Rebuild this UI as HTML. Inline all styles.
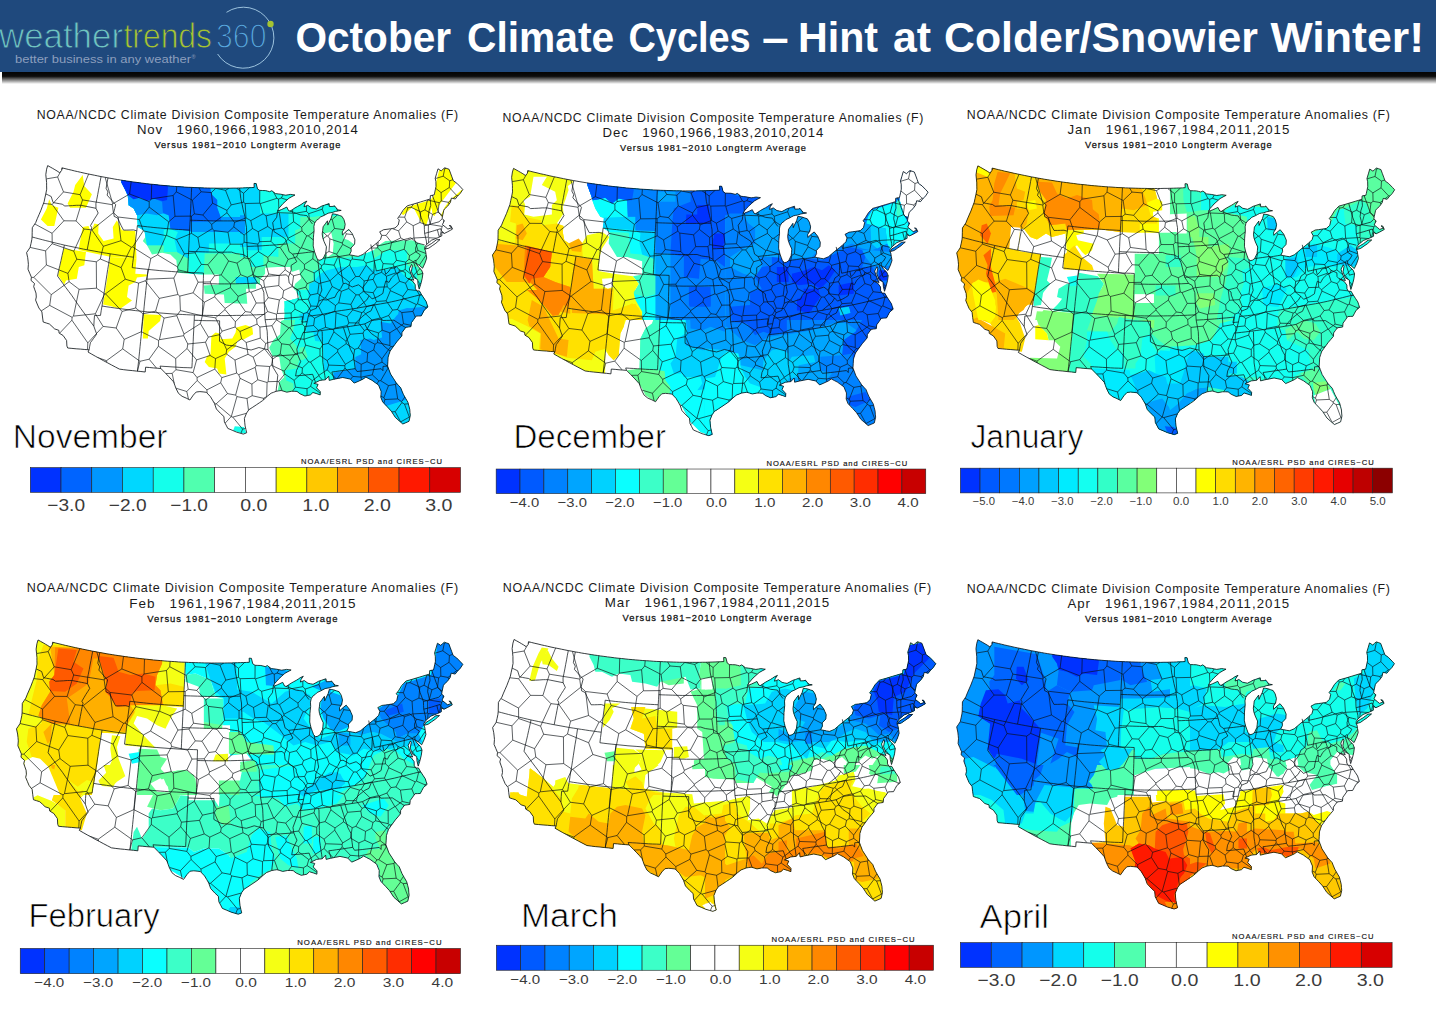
<!DOCTYPE html>
<html><head><meta charset="utf-8"><title>October Climate Cycles</title>
<style>
html,body{margin:0;padding:0;background:#fff;}
body{width:1436px;height:1019px;overflow:hidden;position:relative;font-family:"Liberation Sans",sans-serif;}
svg{position:absolute;left:0;top:0;}
text{font-family:"Liberation Sans",sans-serif;}
</style></head><body>
<svg width="1436" height="1019" viewBox="0 0 1436 1019">
<defs>
<linearGradient id="sh" x1="0" y1="0" x2="0" y2="1"><stop offset="0" stop-color="#000" stop-opacity="1"/><stop offset="0.45" stop-color="#000" stop-opacity="0.95"/><stop offset="1" stop-color="#000" stop-opacity="0"/></linearGradient>
<path id="us" d="M47.7 165.6 L50.2 167.0 L52.7 168.4 L54.9 169.7 L57.1 171.0 L59.6 172.7 L61.6 170.5 L61.9 167.8 L65.0 168.6 L68.2 169.4 L71.3 170.1 L74.4 170.9 L77.6 171.6 L80.7 172.3 L84.1 173.1 L87.5 173.8 L90.9 174.5 L94.3 175.2 L97.7 175.9 L101.1 176.6 L104.5 177.2 L108.0 177.9 L111.1 178.4 L114.2 179.0 L117.3 179.5 L120.4 180.0 L123.6 180.5 L126.7 181.0 L129.8 181.4 L132.9 181.9 L136.1 182.3 L139.6 182.8 L143.0 183.2 L146.5 183.7 L150.0 184.1 L153.5 184.4 L157.0 184.8 L160.5 185.2 L164.0 185.5 L167.5 185.8 L170.9 186.1 L174.4 186.4 L177.8 186.6 L181.3 186.8 L184.8 187.1 L188.2 187.3 L191.7 187.4 L194.9 187.6 L198.0 187.7 L201.2 187.8 L204.4 187.9 L207.5 188.0 L210.7 188.1 L213.8 188.1 L217.0 188.2 L220.2 188.2 L223.4 188.2 L226.7 188.2 L229.9 188.2 L233.1 188.1 L236.4 188.1 L239.6 188.0 L242.6 187.9 L245.5 187.8 L248.4 187.7 L251.3 187.6 L254.2 187.4 L254.0 183.4 L256.2 183.6 L257.5 188.9 L259.7 190.4 L262.5 190.5 L265.4 190.6 L267.5 191.1 L269.7 191.7 L271.8 190.7 L275.5 193.6 L278.1 193.9 L280.6 194.2 L283.1 194.7 L285.7 195.2 L288.2 194.8 L290.6 194.4 L292.8 194.7 L295.0 195.0 L291.9 196.6 L288.9 198.3 L285.9 201.0 L282.9 203.7 L280.9 206.0 L278.9 208.3 L277.6 210.6 L279.1 210.5 L281.6 209.5 L284.0 208.4 L286.8 207.1 L288.6 210.7 L290.1 211.1 L292.6 209.5 L295.0 207.9 L297.5 206.5 L300.1 205.1 L302.0 203.9 L303.8 202.6 L306.9 201.1 L304.8 204.1 L304.0 206.8 L305.9 206.1 L307.8 205.3 L311.5 208.0 L314.0 208.5 L316.4 209.0 L319.2 207.5 L321.9 206.0 L324.7 205.1 L327.5 204.1 L329.1 203.6 L329.4 206.5 L333.1 206.4 L334.4 205.7 L336.3 208.0 L338.1 209.9 L341.2 210.4 L338.3 210.9 L335.4 211.4 L332.2 212.5 L330.2 212.8 L328.2 213.2 L326.1 214.3 L324.1 215.4 L320.5 217.0 L318.6 218.9 L316.5 220.3 L314.6 223.2 L313.9 226.5 L314.1 230.8 L313.7 234.3 L313.4 237.8 L313.3 241.8 L313.2 245.9 L313.8 248.7 L314.5 251.6 L315.7 254.9 L316.9 258.2 L318.8 260.4 L321.1 259.8 L323.3 258.3 L325.7 253.2 L326.1 250.0 L326.4 246.7 L324.1 241.7 L322.7 237.6 L322.2 233.9 L322.7 230.4 L323.1 226.8 L325.3 223.8 L327.5 220.8 L327.8 225.1 L328.9 222.7 L331.2 218.1 L332.4 213.8 L334.5 214.1 L336.7 214.5 L339.3 215.4 L341.9 216.3 L344.0 219.7 L345.2 224.3 L344.4 228.8 L342.3 231.8 L342.4 235.0 L345.8 231.8 L348.8 229.4 L352.3 233.8 L353.6 236.8 L354.9 239.8 L354.6 244.1 L352.8 246.1 L351.0 248.0 L351.2 251.2 L349.4 254.8 L352.3 255.3 L355.2 255.9 L358.1 256.4 L360.6 255.4 L363.0 254.4 L365.9 251.9 L368.8 249.4 L371.6 247.2 L374.3 245.0 L376.6 243.2 L378.6 241.3 L380.6 239.3 L381.7 235.5 L379.7 231.8 L381.7 230.8 L383.6 229.7 L387.0 229.3 L390.5 228.8 L392.8 228.4 L395.0 228.0 L398.2 225.0 L399.3 220.0 L397.7 218.3 L400.3 214.8 L403.0 210.3 L405.1 208.0 L407.3 205.8 L410.5 204.9 L413.7 204.0 L417.0 203.0 L420.3 202.0 L423.6 201.0 L426.9 200.0 L430.2 199.0 L430.4 195.6 L434.1 195.0 L434.6 193.1 L435.3 189.8 L436.0 186.5 L435.9 181.5 L435.2 178.3 L436.6 173.6 L438.0 168.8 L441.2 170.9 L442.9 169.3 L444.7 167.8 L446.9 168.5 L449.1 169.3 L450.5 173.1 L451.9 176.9 L453.3 180.7 L456.8 183.2 L460.6 187.1 L462.8 189.5 L460.4 193.2 L458.8 194.9 L457.2 196.6 L455.3 199.0 L451.4 198.1 L450.4 202.4 L447.7 206.1 L444.6 208.9 L443.8 210.2 L442.5 216.2 L442.1 218.6 L444.4 220.6 L442.4 224.6 L445.9 227.4 L447.9 229.1 L451.6 227.7 L449.2 225.5 L450.9 225.7 L452.5 229.1 L450.2 230.4 L447.9 231.7 L444.4 233.4 L441.8 232.0 L441.8 235.9 L438.2 237.6 L434.9 238.9 L431.5 240.2 L429.1 242.3 L426.6 244.4 L424.8 247.1 L424.7 249.3 L425.5 250.7 L426.1 254.4 L426.7 258.1 L425.1 262.9 L422.6 268.2 L419.5 265.5 L415.9 263.2 L418.1 266.5 L421.5 269.9 L422.9 273.4 L422.2 278.5 L420.7 284.4 L419.2 289.1 L418.0 284.0 L417.7 279.7 L413.7 277.5 L412.6 274.5 L411.4 271.5 L412.4 265.8 L411.6 264.4 L409.4 268.8 L410.2 271.8 L411.3 274.5 L412.4 277.3 L413.8 280.2 L410.7 279.3 L407.6 278.5 L412.5 281.0 L415.2 284.7 L415.3 288.5 L416.8 290.9 L419.4 290.9 L421.5 294.5 L423.8 298.0 L426.1 301.5 L427.0 304.3 L427.9 307.0 L424.4 309.9 L422.8 312.9 L421.2 315.9 L418.6 316.0 L416.1 316.1 L413.8 319.4 L411.4 322.7 L411.0 326.6 L408.4 327.0 L405.8 327.3 L403.9 329.9 L402.0 332.5 L401.9 335.8 L399.4 338.8 L396.8 341.8 L394.7 344.7 L392.6 347.6 L390.1 351.1 L389.1 354.1 L388.1 357.2 L387.9 361.6 L387.6 366.0 L388.7 369.0 L390.6 374.1 L393.4 378.4 L396.2 382.8 L398.4 385.3 L400.7 387.8 L402.0 391.1 L403.4 394.4 L405.6 398.3 L407.9 402.2 L408.9 405.9 L409.8 409.5 L410.0 412.5 L410.3 415.5 L409.0 421.3 L405.9 422.7 L402.8 424.0 L399.1 420.8 L395.4 417.5 L393.3 414.3 L391.2 411.1 L387.4 406.9 L385.0 404.4 L382.6 401.8 L380.8 397.2 L381.0 394.2 L381.1 391.2 L379.8 388.2 L378.6 385.1 L375.3 382.7 L372.0 380.3 L368.9 378.7 L365.9 377.1 L362.9 379.2 L358.6 381.2 L354.2 383.1 L350.3 379.1 L346.5 378.3 L342.7 377.5 L338.2 378.4 L333.7 379.3 L329.2 380.4 L328.7 376.2 L325.4 379.8 L322.7 380.1 L319.9 380.4 L315.6 382.5 L313.8 383.3 L318.1 384.4 L316.6 387.8 L320.3 391.7 L320.2 394.9 L316.8 393.7 L312.9 392.5 L310.4 394.9 L307.6 395.5 L304.9 396.0 L300.0 393.8 L297.0 391.4 L294.2 391.3 L291.4 391.3 L286.8 392.2 L284.0 391.3 L281.1 390.5 L278.6 390.9 L276.1 391.3 L273.6 392.3 L271.1 393.2 L267.5 396.1 L265.1 398.4 L262.6 400.6 L259.7 402.6 L256.7 404.6 L252.8 407.2 L248.9 409.7 L246.6 413.0 L244.4 418.4 L244.7 422.2 L245.1 425.9 L245.9 429.4 L246.7 432.8 L243.3 434.1 L239.9 433.1 L236.5 432.1 L232.1 430.2 L227.8 428.4 L226.1 425.1 L224.4 421.9 L223.9 416.5 L220.4 413.3 L216.4 409.0 L214.5 403.6 L212.5 400.1 L210.4 396.6 L206.3 392.3 L203.1 391.9 L199.9 391.6 L196.2 392.0 L193.3 395.1 L189.9 400.0 L186.2 398.1 L182.1 396.3 L178.5 393.4 L176.0 388.5 L174.8 385.2 L173.6 381.9 L171.1 379.1 L168.5 376.3 L165.1 372.8 L160.9 368.5 L157.1 368.2 L153.3 367.9 L149.5 367.5 L145.6 367.2 L145.2 372.0 L140.9 371.5 L136.6 371.1 L132.3 370.6 L128.0 370.2 L123.7 369.7 L119.4 369.1 L115.4 367.0 L111.4 364.9 L107.5 362.8 L103.5 360.7 L99.6 358.5 L95.7 356.4 L91.8 354.2 L88.0 352.0 L89.1 349.8 L84.8 349.5 L80.5 349.1 L76.2 348.8 L71.9 348.4 L67.7 348.0 L66.9 346.0 L66.6 340.5 L63.1 335.5 L59.1 333.1 L58.8 330.3 L54.6 328.9 L52.0 326.4 L49.4 324.0 L46.3 323.0 L43.2 322.0 L42.5 317.0 L41.9 311.9 L38.9 308.0 L37.2 304.0 L35.6 300.1 L36.3 297.0 L36.0 293.1 L34.8 289.8 L33.7 286.6 L34.5 283.5 L31.0 280.4 L31.4 277.2 L29.7 273.2 L28.0 269.2 L28.4 264.4 L28.1 261.1 L27.7 257.7 L26.6 252.6 L28.4 250.0 L30.1 247.4 L31.0 243.5 L31.8 239.6 L32.1 237.0 L32.2 232.3 L32.3 227.7 L34.0 225.1 L35.7 222.6 L37.3 218.6 L39.0 214.7 L40.7 210.8 L42.4 206.3 L44.1 201.8 L44.9 197.9 L45.8 193.9 L46.7 189.2 L46.6 185.9 L46.6 182.6 L46.2 178.6 L45.8 174.6 L46.6 169.2 L47.7 165.6Z M425.0 249.2 L428.9 248.1 L432.3 245.7 L435.8 243.3 L437.9 241.4 L440.0 239.6 L436.4 239.8 L434.0 241.6 L431.7 243.4 L429.0 245.0 L426.4 246.6 L425.0 249.2Z"/>
<path id="bd" d="M45.8 193.9 L48.5 195.2 L51.2 196.5 L53.1 202.5 L56.1 203.1 L59.2 203.7 L62.2 204.2 L64.8 206.0 L68.7 205.8 L72.5 205.6 L76.4 205.3 L78.7 205.3 L81.1 205.3 L84.0 205.9 L87.0 206.5 L90.0 207.1 L93.0 207.7 L96.0 208.3 M101.1 176.6 L100.2 181.1 L99.4 185.7 L98.5 190.2 L97.7 194.7 L96.8 199.2 L95.9 203.7 L96.0 208.3 M96.0 208.3 L98.2 213.0 L96.4 215.9 L94.5 218.8 L92.5 222.2 L90.5 225.6 L91.7 227.5 L90.8 231.1 L89.9 235.8 L89.0 240.5 L88.1 245.1 L87.2 249.8 M32.1 237.0 L35.5 237.9 L38.9 238.8 L42.3 239.7 L45.8 240.6 L49.2 241.4 L53.0 242.4 L56.8 243.3 L60.6 244.2 L64.4 245.1 L68.2 245.9 L72.0 246.7 L75.8 247.5 L79.6 248.3 L83.4 249.1 L87.2 249.8 L91.0 250.5 L94.9 251.2 L98.7 251.9 L102.5 252.6 L106.4 253.2 L110.2 253.8 L114.1 254.4 L118.0 255.0 L121.8 255.6 L125.7 256.1 L129.6 256.7 L133.5 257.2 M64.4 245.1 L63.3 250.2 L62.1 255.4 L61.0 260.5 L59.8 265.7 L58.6 270.8 L57.5 276.0 L60.2 279.8 L63.0 283.7 L65.8 287.5 L68.7 291.4 L71.6 295.2 L74.6 299.6 L77.7 304.1 L80.8 308.5 L84.0 312.9 L87.2 317.3 L90.5 321.7 L93.8 326.1 M93.8 326.1 L95.2 330.1 L96.7 334.1 L93.6 338.4 L90.4 342.7 L89.7 346.2 L89.1 349.8 M93.8 326.1 L94.1 320.8 L94.5 315.5 L97.5 315.5 L100.5 315.4 M110.2 253.8 L109.4 259.1 L108.6 264.3 L107.7 269.5 L106.9 274.7 L106.1 279.9 L105.3 285.2 L104.5 290.4 L103.6 295.6 L102.8 300.8 L102.0 306.0 L101.2 310.7 L100.5 315.4 M102.0 306.0 L106.1 306.7 L110.3 307.3 L114.5 307.9 L118.6 308.5 L122.8 309.0 L127.0 309.6 L131.1 310.1 L135.3 310.6 L139.5 311.0 L143.7 311.5 L147.6 311.9 L151.5 312.2 L155.3 312.6 L159.2 312.9 L163.1 313.2 L167.0 313.5 L171.0 313.8 L174.9 314.1 L178.8 314.3 L182.7 314.5 L186.6 314.7 L190.5 314.9 L194.4 315.0 L198.4 315.2 L202.4 315.3 L206.2 315.4 L209.9 315.4 L213.7 315.5 L217.5 315.5 L221.3 315.6 L225.1 315.6 L228.9 315.5 L232.6 315.5 L236.4 315.4 L240.5 315.4 L244.5 315.3 L248.6 315.1 L252.7 315.0 L256.7 314.8 L260.8 314.6 L264.8 314.4 M148.0 269.4 L147.4 274.7 L146.9 280.0 L146.4 285.2 L145.8 290.5 L145.3 295.7 L144.7 301.0 L144.2 306.2 L143.7 311.5 L143.2 316.4 L142.6 321.4 L142.1 326.4 L141.6 331.3 L141.1 336.3 L140.6 341.3 L140.1 346.3 L139.6 351.2 L139.1 356.2 L138.6 361.2 L138.0 366.2 L137.5 371.2 M133.5 257.2 L132.8 262.4 L132.2 267.6 L136.1 268.1 L140.1 268.6 L144.0 269.0 L148.0 269.4 M136.8 230.9 L136.1 236.1 L135.4 241.4 L134.8 246.6 L134.1 251.9 L133.5 257.2 M108.0 177.9 L107.0 183.1 L106.1 188.4 L108.0 192.0 L107.1 195.1 L110.0 198.4 L112.9 201.6 L115.7 204.7 L114.7 208.6 L113.7 212.5 L114.2 216.4 L117.7 218.0 L119.4 221.8 L121.1 225.5 L123.5 230.1 L126.8 230.1 L130.1 230.0 L133.5 229.9 L136.8 230.9 L137.4 225.6 M137.4 225.6 L140.7 226.0 L144.0 226.4 L147.3 226.8 L150.6 227.1 L153.9 227.5 L157.2 227.8 L160.6 228.1 L163.9 228.4 L167.5 228.7 L171.2 229.0 L174.9 229.3 L178.6 229.5 L182.3 229.7 L186.0 229.9 L189.6 230.1 M191.7 187.4 L191.4 192.8 L191.2 198.2 L190.9 203.5 L190.7 208.8 L190.4 214.2 L190.2 219.5 L189.9 224.8 L189.6 230.1 L189.4 235.4 L189.1 240.7 L188.9 246.0 L188.6 251.3 L188.4 256.6 L188.1 261.9 L187.9 267.2 L187.6 272.5 M148.0 269.4 L151.9 269.8 L155.9 270.2 L159.8 270.6 L163.8 270.9 L167.8 271.2 L171.7 271.5 L175.7 271.8 L179.7 272.0 L183.6 272.3 L187.6 272.5 L191.6 272.6 L195.6 272.8 L199.5 272.9 L203.5 273.1 L203.4 278.3 L203.2 283.6 L206.8 283.7 L210.4 283.8 L214.0 283.8 L217.5 283.9 L221.1 283.9 L224.7 283.9 L228.3 283.9 L231.8 283.8 L235.5 283.8 L239.2 283.7 L242.9 283.6 L246.6 283.5 L250.3 283.4 L254.0 283.2 L257.6 283.1 M203.2 283.6 L203.1 288.9 L202.9 294.2 L202.8 299.4 L202.7 304.7 L202.5 310.0 L202.4 315.3 M194.4 315.0 L194.2 320.3 L193.9 325.6 L193.7 330.9 L193.4 336.1 L193.2 341.4 L192.9 346.7 L192.7 352.0 L192.4 357.3 L192.2 362.6 L191.9 367.9 L187.9 367.7 L183.9 367.6 L179.9 367.4 L175.9 367.1 L172.0 366.9 L168.0 366.6 L164.0 366.4 L160.0 366.1 L160.9 368.5 M194.2 320.3 L198.4 320.4 L202.7 320.6 L206.9 320.7 L211.1 320.7 L215.4 320.8 L219.6 320.8 L219.6 326.0 L219.5 331.1 L219.5 336.2 L219.5 341.3 L223.0 343.3 L226.5 345.1 L229.7 345.5 L232.9 345.8 L236.1 346.1 L240.0 347.4 L244.0 348.6 L247.5 349.3 L251.1 350.0 L255.0 348.8 L258.9 347.5 L261.9 348.3 L264.9 349.0 L268.0 349.7 M190.1 220.1 L193.4 220.3 L196.8 220.4 L200.1 220.5 L203.4 220.6 L206.7 220.7 L210.1 220.8 L213.4 220.9 L216.7 220.9 L220.0 220.9 L223.6 220.9 L227.3 220.9 L230.9 220.9 L234.5 220.8 L238.2 220.8 L241.8 220.7 L245.4 220.6 M188.6 251.3 L192.0 251.5 L195.3 251.6 L198.7 251.7 L202.1 251.8 L205.4 251.9 L208.8 252.0 L212.2 252.1 L216.0 252.1 L219.9 252.1 L223.7 252.2 L227.6 252.1 L231.5 252.1 L233.8 252.9 L236.1 253.6 L239.6 254.1 L243.1 254.5 L245.3 255.8 L247.5 257.0 M245.4 220.6 L245.0 216.7 L244.0 213.0 L243.1 209.3 L242.0 204.0 L240.8 198.7 L240.2 193.3 L239.6 188.0 M245.4 220.6 L245.9 224.0 L246.5 227.3 L246.6 232.1 L246.8 236.9 L246.9 241.7 L247.1 246.4 L247.3 250.7 L247.4 253.9 L247.5 257.0 M247.1 246.4 L250.9 246.3 L254.6 246.1 L258.4 246.0 L262.1 245.8 L265.9 245.5 L269.4 245.3 L273.0 245.1 L276.5 244.8 L280.0 244.5 L283.6 244.2 L287.1 243.9 M247.5 257.0 L250.0 262.2 L251.4 267.5 L252.6 272.7 L253.7 276.9 L255.7 280.0 L257.6 283.1 L261.0 285.0 L262.4 288.6 L263.8 292.3 L264.0 296.7 L264.2 301.1 L264.4 305.6 L264.6 310.0 L264.8 314.4 L265.1 319.7 L265.8 323.5 L266.5 327.4 L267.2 331.2 L267.4 335.8 L267.6 340.5 L267.8 345.1 L268.0 349.7 L270.1 353.0 L272.2 356.2 L272.4 359.8 L272.6 363.4 L272.9 367.0 L275.3 371.1 L277.8 375.2 L277.3 380.0 L276.8 384.9 L276.4 388.1 L276.1 391.3 M253.7 276.9 L257.3 276.7 L260.9 276.6 L264.5 276.4 L268.1 276.2 L271.7 275.9 L275.3 275.7 L278.9 275.4 L282.5 275.1 L286.1 274.8 L288.5 276.9 M265.1 319.7 L268.8 319.5 L272.5 319.3 L276.2 319.0 L279.9 318.8 L283.5 318.5 L287.2 318.2 L291.1 317.8 L295.0 317.5 L298.9 317.1 L302.8 316.7 L301.7 322.2 L304.4 321.9 L307.2 321.6 M272.2 356.2 L276.4 355.9 L280.7 355.7 L284.9 355.4 L289.1 355.1 L293.4 354.8 L297.6 354.4 M277.6 210.6 L277.2 214.0 L276.7 217.3 L274.7 220.0 L272.7 222.7 L273.4 227.2 L274.1 231.7 L278.0 234.1 L281.6 236.4 L285.3 238.8 L287.1 243.9 L288.1 247.8 L289.1 251.7 L292.6 254.1 L294.7 257.8 L296.8 261.6 L294.0 263.5 L291.2 265.3 L291.2 270.1 L289.9 273.5 L288.5 276.9 L288.8 280.0 L289.2 283.0 L291.9 285.4 L294.5 287.8 L297.2 289.7 L299.8 291.6 L300.1 294.7 L301.3 297.8 L302.4 300.8 L307.0 304.6 L308.8 307.6 L310.6 310.6 L308.3 316.1 L307.2 321.6 L306.1 326.2 L305.0 330.9 L303.1 332.6 L301.6 336.5 L300.0 340.4 L298.4 344.8 L296.8 349.2 L297.6 354.4 L299.1 358.0 L300.7 361.6 L298.6 366.1 L296.5 370.5 L295.6 376.0 L299.9 375.6 L304.1 375.2 L308.3 374.7 L312.6 374.3 L314.1 378.4 L315.6 382.5 M290.1 211.1 L293.5 212.3 L296.8 213.6 L300.1 214.8 L303.5 215.2 L306.9 215.6 L308.6 218.4 L310.2 221.1 L312.5 224.0 M292.6 254.1 L295.7 253.7 L298.9 253.4 L302.1 253.1 L305.2 252.7 L308.3 252.3 L311.4 252.0 L314.5 251.6 M317.6 259.2 L318.3 264.2 L318.9 269.2 L319.6 274.2 L320.3 279.3 L320.9 284.3 L321.4 287.2 L321.9 290.0 L320.5 293.4 L319.1 296.8 L318.8 301.1 M374.4 261.3 L374.2 264.8 L374.1 268.3 L373.8 272.7 L371.7 274.2 L369.6 275.7 L367.4 281.5 L364.9 284.7 L362.4 287.8 L358.5 284.8 L355.3 285.9 L352.2 287.0 L349.0 285.1 L345.7 283.3 L343.2 283.7 L340.8 288.4 L338.8 290.8 L336.9 293.2 L335.0 297.2 L332.8 297.8 L330.6 298.4 L326.6 300.0 L322.3 299.6 L318.8 301.1 L317.5 304.7 L316.3 308.3 L313.5 309.4 L310.6 310.6 M338.8 256.6 L339.5 261.1 L340.3 265.6 L341.0 270.1 L341.7 274.7 L342.4 279.2 L343.2 283.7 M323.3 258.3 L327.2 257.7 L331.0 257.2 L334.8 256.6 L338.7 256.0 L338.8 256.6 L342.3 256.0 L345.9 255.4 L349.4 254.8 M370.8 244.5 L371.7 248.7 L372.6 252.9 L373.5 257.1 L374.4 261.3 L375.4 266.1 L376.3 270.9 M376.3 270.9 L379.1 270.3 L381.8 269.7 L384.5 269.1 L388.4 268.2 L392.4 267.3 L396.3 266.4 L400.2 265.4 L403.5 264.6 L406.9 263.7 L410.3 262.9 L413.6 262.0 M376.6 243.2 L377.2 246.0 L380.7 245.3 L384.1 244.5 L387.6 243.7 L391.0 242.8 L394.5 242.0 L397.8 241.2 L401.0 240.4 L404.3 239.5 L407.5 238.7 L410.8 237.8 L414.2 240.5 L417.5 243.1 L421.1 244.0 L424.6 244.9 M417.5 243.1 L415.6 248.0 L415.8 251.8 L420.4 254.9 L418.1 258.8 L416.0 260.5 L415.9 263.2 M416.0 260.5 L414.8 260.4 L413.6 262.0 L415.0 266.3 L416.4 270.5 L417.7 274.8 L420.3 274.1 L422.9 273.4 M399.4 269.9 L402.4 271.2 L405.3 272.5 L405.4 276.3 L407.6 278.5 M384.5 269.1 L385.1 271.8 L385.7 274.4 L389.0 271.0 L390.5 268.5 L392.7 268.2 L395.0 268.0 L396.3 266.6 L398.0 268.3 L399.4 269.9 M399.4 269.9 L399.0 272.5 L395.2 274.4 L393.3 276.2 L391.4 278.0 L389.0 282.4 L385.8 280.9 L384.7 284.9 L383.7 288.9 L382.9 293.4 L380.3 295.1 L377.6 296.7 L374.9 297.8 L372.1 298.9 L369.2 295.8 M369.2 295.8 L365.0 292.7 L362.4 287.8 M369.2 295.8 L366.8 299.9 L363.5 302.7 L360.2 305.4 L356.9 308.2 M421.5 294.5 L418.0 295.4 L414.5 296.3 L411.0 297.2 L407.5 298.1 L404.0 298.9 L399.9 299.9 L395.8 300.9 L391.6 301.8 L387.5 302.7 L384.0 303.3 L380.5 303.9 L377.0 304.5 L373.5 305.1 L369.3 305.9 L365.2 306.7 L361.0 307.4 L356.9 308.2 L353.0 308.8 L349.1 309.4 L345.2 310.0 L341.4 310.5 L337.5 311.1 L334.1 311.8 L330.7 312.6 L327.3 313.3 L323.9 314.0 L320.5 314.7 L316.4 315.2 L312.4 315.7 L308.3 316.1 M373.5 305.1 L371.0 310.9 L367.0 312.8 L364.4 314.9 L361.7 317.0 L359.1 319.6 L356.5 322.2 L354.3 325.7 M364.7 323.9 L361.2 324.6 L357.8 325.2 L354.3 325.7 L350.7 326.3 L347.0 326.9 L343.4 327.5 L339.7 328.1 L336.0 328.6 L332.3 329.1 L328.6 329.6 L324.9 330.1 L321.2 330.6 L317.6 331.0 L314.0 331.5 L310.4 331.9 L306.8 332.3 L303.1 332.6 M364.7 323.9 L367.9 322.3 L371.1 320.6 L374.7 320.1 L378.2 319.6 L381.8 319.0 L382.5 320.5 L386.3 320.4 L390.1 320.3 L393.9 320.2 L397.9 322.8 L401.9 325.3 L405.9 327.8 M364.7 323.9 L367.3 328.8 L371.3 333.5 L374.4 335.6 L377.5 337.7 L380.8 341.9 L384.1 346.1 L387.1 348.6 L390.1 351.1 M343.4 327.5 L344.8 331.9 L346.2 336.3 L347.6 340.7 L349.1 345.0 L350.5 349.4 L352.0 352.2 L353.5 354.9 L354.0 359.4 L354.6 364.0 L355.2 368.6 L357.0 371.5 L361.0 371.1 L365.0 370.7 L369.0 370.2 L373.1 369.7 L377.1 369.2 L381.1 368.7 L382.9 370.7 L383.0 366.4 L387.6 366.0 M355.2 368.6 L351.3 369.2 L347.4 369.8 L343.5 370.4 L339.6 370.9 L335.7 371.5 L331.8 372.0 L333.0 375.6 L334.1 379.2 M321.2 330.6 L322.2 331.5 L322.3 336.7 L322.4 341.8 L322.5 347.0 L322.6 352.1 L322.7 357.3 L322.8 362.4 L323.5 366.8 L324.1 371.1 L324.8 375.4 L325.4 379.8 M417.0 203.0 L418.5 208.1 L419.8 212.7 L421.1 217.3 L422.7 221.5 L424.3 225.8 M430.2 199.0 L430.5 202.3 L430.7 205.5 L429.1 210.5 L428.4 216.2 L429.4 220.2 L430.3 224.2 M424.3 225.8 L427.3 225.0 L430.3 224.2 L433.2 223.4 L436.1 222.6 L439.0 221.8 L442.0 218.9 M424.3 225.8 L424.4 229.6 L424.6 233.4 L425.5 237.2 L426.4 241.1 L426.6 244.4 M424.6 233.4 L428.4 232.4 L432.2 231.3 L434.8 230.5 L437.4 229.7 L440.6 228.7 L441.0 230.1 L444.1 233.5 M437.4 229.7 L438.3 233.4 L439.3 237.0 M432.3 195.0 L433.7 199.0 L435.2 203.0 L436.8 207.5 L438.5 212.0 L440.3 214.3 L442.1 216.6"/>
<path id="ms" d="M122.1 311.4L116.2 328M122.1 311.4L105.5 293.8M116.2 328L103.1 326.4M105.5 293.8L104.7 293.8M103.1 326.4L95.4 313.8M104.7 293.8L95.4 313.8M59.5 333.3L71.9 320.2M71.9 320.2L87.8 342.9M87.5 349.7L87.8 342.9M444.7 168.9L446.1 168.3M444.7 168.9L443.2 176.2M443.2 176.2L449.7 180.8M452.9 179.7L449.7 180.8M122.1 311.4L135.7 308M105.5 293.8L125.3 279.2M135.7 308L138.6 283.1M125.3 279.2L138.6 283.1M71.9 320.2L72.1 317.3M41.2 311L49.7 305.4M72.1 317.3L49.7 305.4M103.1 326.4L87.8 342.9M95.4 313.8L73.5 316.1M72.1 317.3L73.5 316.1M116.2 328L124.2 339.4M135.7 308L143 313.8M143 313.8L141.3 331.7M141.3 331.7L124.2 339.4M104.7 293.8L96.5 288.2M73.5 316.1L79.1 289.3M96.5 288.2L79.1 289.3M173.8 278.1L177.9 294.5M173.8 278.1L146.6 279.2M177.9 294.5L159.3 298.4M159.3 298.4L145.2 280.8M145.2 280.8L146.6 279.2M143 313.8L155.6 311.2M155.6 311.2L159.3 298.4M138.6 283.1L145.2 280.8M51.2 294.7L69.1 281.7M51.2 294.7L33.8 277.3M46.4 265L33.8 277.3M46.4 265L67.9 273.4M67.9 273.4L69.1 281.7M49.7 305.4L51.2 294.7M79.1 289.3L69.1 281.7M31.4 277.5L33.8 277.3M76.8 259.2L96.3 261.8M76.8 259.2L67.9 273.4M96.3 261.8L96.5 288.2M155.6 311.2L164.1 318.1M141.3 331.7L158.6 340.4M158.6 340.4L159.4 339.7M159.4 339.7L164.1 318.1M177.9 294.5L179.8 296.1M180.4 310.6L179.8 296.1M180.4 310.6L176.8 315.7M176.8 315.7L164.1 318.1M284.8 374L294.1 380.3M284.8 374L284.2 371.2M302.4 367.9L290.1 363.1M302.4 367.9L302.1 372.9M302.1 372.9L294.1 380.3M284.2 371.2L290.1 363.1M268.1 381.7L269.6 366.5M268.1 381.7L278.7 381.4M269.6 366.5L271.5 365.3M284.8 374L278.7 381.4M284.2 371.2L271.5 365.3M444.7 168.9L444.2 168.2M449.3 187.5L449.7 180.8M449.3 187.5L456.8 195.6M456.8 195.6L458.1 195.7M443.2 176.2L435.3 178.6M449.3 187.5L441.1 192.6M441.1 192.6L435.6 188.3M420.9 283.6L419.9 283.8M413.7 275.2L416.4 278.9M417.8 281L419.9 283.8M413.7 275.2L419.8 268.8M420.9 269.3L419.8 268.8M57.6 177L46.3 178.9M57.6 177L60.8 171.4M61.7 169.8L62.7 168M63.5 191.9L57.6 177M63.5 191.9L52.2 204.4M52.2 204.4L43.4 203.4M80.1 194.7L63.5 191.9M80.1 194.7L88.6 174.1M46.4 265L45.6 250.9M45.6 250.9L30.1 247.4M338.7 302.9L341.4 291.3M338.7 302.9L350.9 304.4M350.9 304.4L356.1 294.8M356.1 294.8L348.7 288.5M348.7 288.5L341.4 291.3M166 235.7L157.6 254.8M166 235.7L143.3 230.9M143.3 230.9L132.6 247M132.6 247L150.8 258.5M150.8 258.5L157.6 254.8M166.5 235.4L166 235.7M166.5 235.4L168.7 221.8M168.7 221.8L149.2 207.1M149.2 207.1L139.3 219.5M139.3 219.5L143.3 230.9M178.2 269.9L173.8 278.1M178.2 269.9L177.5 266.9M177.5 266.9L157.6 254.8M146.6 279.2L150.8 258.5M215.8 188.3L225.5 190.3M215.8 188.3L211.3 192.6M225.5 190.3L231.2 204.9M231.2 204.9L227 210.4M211.3 192.6L212.6 203.2M212.6 203.2L227 210.4M215.8 188.3L215.8 188.2M211.3 192.6L201.2 191.8M198.8 187.7L201.2 191.8M201.2 191.8L192.4 200.2M176.8 186.5L176.3 191.8M192.4 200.2L176.3 191.8M168.7 221.8L175 216.3M149.2 207.1L149.2 201.6M175 216.3L173.2 195.5M173.2 195.5L151.3 198.9M151.3 198.9L149.2 201.6M173.2 195.5L176.3 191.8M151.3 198.9L151.7 184.2M105.1 177.3L112.7 203.9M131.2 181.6L129.6 194M112.7 203.9L129.6 194M80.1 194.7L82.5 199.9M82.5 199.9L112.3 204.7M112.3 204.7L112.7 203.9M149.2 201.6L129.6 194M112.3 204.7L113.4 212.7M113.4 212.7L118.1 217M139.3 219.5L118.1 217M76.1 220.9L84 229M76.1 220.9L63.9 220.8M84 229L73.8 251.2M63.9 220.8L52.1 233.3M73.8 251.2L52.2 243.7M52.2 243.7L52.1 233.3M91.9 229.9L84 229M91.9 229.9L113.4 212.7M82.5 199.9L76.1 220.9M52.2 204.4L63.9 220.8M34.7 223.9L52.1 233.3M76.8 259.2L73.8 251.2M45.6 250.9L52.2 243.7M121 240.7L131.3 247.2M121 240.7L103.3 246.3M131.3 247.2L121.1 267.6M121.1 267.6L100.3 259M100.3 259L103.3 246.3M118.1 217L121 240.7M132.6 247L131.3 247.2M91.9 229.9L103.3 246.3M125.3 279.2L121.1 267.6M96.3 261.8L100.3 259M178.2 269.9L193.9 273.5M193.9 273.5L198.1 282.2M179.8 296.1L193.1 292.8M198.1 282.2L193.1 292.8M193.9 273.5L201.4 264.4M201.4 264.4L207.9 264.7M207.9 264.7L214.6 275.8M214.6 275.8L210.2 281.9M198.1 282.2L210.2 281.9M230.5 287.6L230.6 283.9M230.5 287.6L215.3 294.8M230.6 283.9L221.2 274.9M214.6 275.8L221.2 274.9M210.2 281.9L215.3 294.8M177.5 266.9L184.4 253.8M166.5 235.4L176.5 239.6M184.4 253.8L176.5 239.6M201.4 264.4L195.1 252.8M184.4 253.8L195.1 252.8M238.1 296.3L249.3 291.7M238.1 296.3L237.4 299.7M237.4 299.7L245.4 311.6M245.4 311.6L250.6 312.3M250.6 312.3L256.2 303M256.2 303L251 292.2M251 292.2L249.3 291.7M238.1 296.3L230.5 287.6M230.6 283.9L240.6 274.7M240.6 274.7L247.3 277.3M249.3 291.7L247.3 277.3M221.2 274.9L228.6 261M240.6 274.7L237 263.1M228.6 261L237 263.1M271.5 365.3L272.7 359M290.1 363.1L289.9 360.6M289.9 360.6L280.2 354M280.2 354L272.7 359M268.1 381.7L267.1 382.5M269.6 366.5L256.2 365.6M257.8 379.8L267.1 382.5M257.8 379.8L255.2 367.4M255.2 367.4L256.2 365.6M266.7 396.6L267.1 382.5M266.7 396.6L267 396.6M278.7 381.4L282.1 390.7M158.6 340.4L158.4 346.2M158.4 346.2L149.1 359.2M124.2 339.4L122.7 348.9M149.1 359.2L140 361.3M122.7 348.9L140 361.3M246.2 342.5L260.3 338.1M246.2 342.5L248 354.3M248 354.3L253.2 357.1M253.2 357.1L264.5 348.9M260.3 338.1L265.7 343.4M265.7 343.4L264.5 348.9M272.7 359L264.5 348.9M256.2 365.6L253.2 357.1M308.7 361.9L302.4 367.9M308.7 361.9L302.4 352.7M289.9 360.6L295 353.6M302.4 352.7L295 353.6M308.7 361.9L310.5 362M320 355.7L310.5 362M320 355.7L320 349M320 349L305.6 345.1M302.4 352.7L305.6 345.1M320.3 393.1L310.6 386.4M312.3 380.6L310.6 386.4M312.3 380.6L318.7 375.8M322.5 380.1L318.7 375.8M310.5 362L318.9 375.3M302.1 372.9L312.3 380.6M318.7 375.8L318.9 375.3M295.5 387.2L307 388.7M295.5 387.2L292.4 391.3M307 388.7L307.1 395.6M294.1 380.3L295.5 387.2M310.6 386.4L307 388.7M326.9 204.3L329.3 205M333.6 206.1L335.1 206.5M336.3 208L337.8 211M381.6 272.3L386.4 276.2M381.6 272.3L383.1 263.6M383.1 263.6L393.2 264.2M393.2 264.2L396 272.8M386.4 276.2L396 272.8M424.9 209.9L427.5 200M424.9 209.9L420.7 211.8M427.5 200L427.5 199.9M413.7 204L411.1 207.3M411.1 207.3L420.7 211.8M424.9 209.9L432.6 214.4M428.4 225.4L419.9 222.5M428.4 225.4L429.9 224.4M432.6 214.4L429.9 224.4M420.7 211.8L419.9 222.5M337.5 214.8L332.2 219.5M324.5 215.1L322.2 209.2M330.7 219.1L332.2 219.5M323.4 205.5L322.2 209.2M279.2 275.5L278.8 285.6M279.2 275.5L268.7 274M278.8 285.6L264.9 287.3M268.7 274L263.7 280.8M263.7 280.8L264.5 287.1M264.9 287.3L264.5 287.1M251 292.2L264.5 287.1M253 274.5L247.3 277.3M253 274.5L263.7 280.8M268.2 297.7L264.2 302.9M268.2 297.7L264.9 287.3M256.2 303L264.2 302.9M364 338.4L358.2 348.1M364 338.4L375 344.3M373.7 349.9L375 344.3M373.7 349.9L367.7 353M367.7 353L358.2 348.1M405.2 269.5L397 273.3M405.2 269.5L411.3 274.5M411.8 275.9L409.2 278.9M409 279.2L405.5 283.2M397 273.3L399.6 281.3M405.5 283.2L399.6 281.3M405.7 262.1L396.5 260.3M405.7 262.1L405.2 269.5M393.2 264.2L396.5 260.3M396 272.8L397 273.3M409 259.2L405.7 262.1M409 259.2L416.2 263.6M413.7 275.2L412.9 275.3M419.8 268.8L419.7 268.1M390 289.3L399.6 281.3M390 289.3L387.2 286.9M387.2 286.9L386.4 276.2M419.9 283.8L418.6 286.7M405.5 283.2L407.8 289.5M416.6 290.5L407.8 289.5M352.8 309.9L361.8 312.6M352.8 309.9L347.1 316.7M347.1 316.7L348.8 322.8M348.8 322.8L358.6 323M358.6 323L361.8 312.6M352.8 309.9L350.9 304.4M356.1 294.8L358.9 294.8M358.9 294.8L366.6 306.6M366.6 306.6L363.5 311.9M361.8 312.6L363.5 311.9M438 212.2L442.6 215.7M438 212.2L439.2 202.7M448.3 202.3L449.1 204.1M448.3 202.3L441.3 201M441.3 201L439.2 202.7M432.6 214.4L438 212.2M429.9 224.4L442.1 226.4M443.4 225.4L442.1 226.4M443.4 225.4L443.4 225.4M443.6 222.2L443.7 220.1M427.5 200L439.2 202.7M456.8 195.6L453.1 198.5M450.9 200.3L448.3 202.3M441.1 192.6L441.3 201M443.4 225.4L443.4 225.4M451.3 227.8L452 228M452 228L452 228M428.3 237.2L428.4 225.4M428.3 237.2L428.8 237.7M442.1 226.4L440 236.7M436.6 238.2L428.8 237.7M427.6 306.3L425.8 307.4M425.8 307.4L417.5 303.8M421.8 294.9L419.6 295.2M417.5 303.8L419.6 295.2M426 308.6L425.8 307.4M415.3 317.2L412.9 311.4M412.9 311.4L416.3 304.5M416.3 304.5L417.5 303.8M417.1 290.9L419.6 295.2M409 259.2L409.5 255.7M396.5 260.3L394.8 252.4M409.5 255.7L404.2 249.2M394.8 252.4L404.2 249.2M347.3 325.6L335.2 328M347.3 325.6L350.1 334.3M350.1 334.3L346.1 341.3M346.1 341.3L333.9 331.9M335.2 328L333.5 329.8M333.5 329.8L333.9 331.9M336 312.8L347.1 316.7M336 312.8L335.2 328M348.8 322.8L347.3 325.6M363.1 333.2L350.1 334.3M363.1 333.2L364.3 330.5M364.3 330.5L358.6 323M338.7 302.9L335.5 305.5M341.4 291.3L332.2 286.5M332.2 286.5L325.3 298M325.3 298L335.5 305.5M336 312.8L334.8 311.2M334.8 311.2L335.5 305.5M267.7 311.6L256.6 319.2M267.7 311.6L276.5 314.2M276.5 314.2L276.5 319.9M276.5 319.9L272 325.7M272 325.7L259.9 327M259.9 327L257.1 324.1M257.1 324.1L256.6 319.2M250.6 312.3L256.6 319.2M264.2 302.9L267.7 311.6M277.9 339.9L265.7 343.4M277.9 339.9L272 325.7M260.3 338.1L259.9 327M241.6 338.6L240 331.5M241.6 338.6L246.2 342.5M240 331.5L257.1 324.1M240 331.5L235.1 327M245.4 311.6L235.4 321.8M235.1 327L235.4 321.8M225.5 190.3L229.2 188.2M236.5 188.1L243.6 193.3M254.1 183.4L254.1 183.4M249.6 187.6L243.6 193.3M231.2 204.9L243.6 202.2M243.6 193.3L243.6 202.2M234.5 222.4L246 217.9M234.5 222.4L227 212.7M246 217.9L245.2 203.5M227 212.7L227 210.4M243.6 202.2L245.2 203.5M322.2 209.2L308.7 213.7M308.7 213.7L306.5 211.3M306.5 211.3L306.4 205.9M305.5 203L304.6 202.2M212.2 228.7L197.9 237.4M212.2 228.7L211.6 224.4M211.6 224.4L202.8 215M191.5 233.4L197.9 237.4M191.5 233.4L191.5 216.1M202.8 215L194.4 213.9M191.5 216.1L194.4 213.9M212.6 203.2L202.8 215M227 212.7L211.6 224.4M176.5 239.6L191.5 233.4M195.1 252.8L199.6 247.1M199.6 247.1L197.9 237.4M175 216.3L191.5 216.1M192.4 200.2L194.4 213.9M214.6 296.8L204.4 302.2M214.6 296.8L225.1 308.5M204.4 302.2L202.3 315.9M225.1 308.5L225 309.6M225 309.6L215.5 317.8M202.3 315.9L215.5 317.8M193.1 292.8L204.4 302.2M215.3 294.8L214.6 296.8M237.4 299.7L225.1 308.5M180.4 310.6L202.3 315.9M202.3 315.9L202.3 315.9M235.4 321.8L225 309.6M235.1 327L222 331.2M222 331.2L215.5 317.8M255.5 267.3L249.4 258.6M255.5 267.3L266.2 264.8M249.4 258.6L258.5 251.7M258.5 251.7L267.9 257.5M266.2 264.8L268.2 261.1M268.2 261.1L267.9 257.5M253 274.5L255.5 267.3M237 263.1L244.2 257.9M244.2 257.9L249.4 258.6M268.7 274L266.2 264.8M207.9 264.7L218.6 252.5M228.6 261L222.6 253.2M218.6 252.5L222.6 253.2M199.6 247.1L215.3 249.2M218.6 252.5L215.3 249.2M212.2 228.7L214.2 230.6M215.3 249.2L214.2 230.6M202.3 315.9L200.4 323.6M176.8 315.7L184 334M200.4 323.6L184 334M159.4 339.7L183.6 335.7M184 334L183.6 335.7M241.6 338.6L226.7 349.8M222 331.2L219.9 334.6M219.9 334.6L226.7 349.8M200.4 323.6L208.4 337.1M219.9 334.6L208.4 337.1M187.8 344L205.5 342.2M187.8 344L183.6 335.7M208.4 337.1L205.5 342.2M158.4 346.2L175.7 358.6M187.8 344L187.1 348.5M187.1 348.5L175.7 358.6M149.1 359.2L156.5 368.1M165.8 373.5L172.2 373.4M172.2 373.4L175.9 369.7M175.7 358.6L175.9 369.7M88 351.9L88.2 352.1M122.7 348.9L106.5 360.7M98.1 357.7L106.5 360.7M140 361.3L137.3 371.2M172.2 373.4L174.2 383.5M297 338.5L289.6 344.8M297 338.5L290 327.7M288.9 327.9L290 327.7M288.9 327.9L278.4 340M289.6 344.8L281.6 343.8M281.6 343.8L278.4 340M295 353.6L289.6 344.8M305.6 345.1L304 339.3M304 339.3L297 338.5M277.9 339.9L278.4 340M276.5 319.9L288.9 327.9M280.2 354L281.6 343.8M333.5 329.8L325.6 327.3M334.8 311.2L324.2 315.1M325.6 327.3L324.2 315.1M304 339.3L317.4 334.7M304 339.3L304.7 326.5M304.7 326.5L313.6 325.5M313.6 325.5L318.4 330.3M317.4 334.7L318.4 330.3M320 349L322.8 344.7M322.8 344.7L317.4 334.7M304 339.3L304 339.3M291.7 325.9L290 327.7M291.7 325.9L302.2 324.1M302.2 324.1L304.7 326.5M302.2 324.1L303.7 313.6M303.7 313.6L307 312.5M307 312.5L314.6 318.2M314.6 318.2L313.6 325.5M325.6 327.3L318.4 330.3M314.6 318.2L322.6 314.4M324.2 315.1L322.6 314.4M322.8 344.7L328.2 343.4M328.2 343.4L333.9 331.9M376.9 383.9L378.8 380.9M380.9 396.2L383.9 397.6M383.9 397.6L388.5 385.6M378.8 380.9L380.7 380.7M380.7 380.7L388.5 385.6M344.7 227.5L343.7 229.7M352.7 234.6L346.4 233.9M346.4 233.9L345.3 232.2M343.8 229.7L343.7 229.7M332.2 219.5L334.5 228.4M334.5 228.4L343.7 229.7M342.7 244.4L342.2 243M342.7 244.4L351 248.7M342.2 243L346.4 233.9M308.7 213.7L309.4 219M315 222.7L309.4 219M323.1 238.7L327 235.8M325.8 252.6L326.4 252.8M329.9 238.9L327.8 236M329.9 238.9L329 251.5M329 251.5L326.4 252.8M327 235.8L327.8 236M314.1 231.4L308.3 235.9M322.5 231.6L327 235.8M308.3 235.9L313.3 240M342.2 243L329.9 238.9M334.5 228.4L327.8 236M342.7 244.4L336.7 254.2M336.7 254.2L329 251.5M334.1 265.2L338 256.7M334.1 265.2L324 264M324 264L326.4 252.8M338 256.7L336.7 254.2M279.2 275.5L285.2 269.8M278.8 285.6L283.7 290.6M292.1 286.6L283.7 290.6M292.1 286.6L293.6 275.8M293.6 275.8L285.2 269.8M268.2 261.1L284.9 266.5M284.9 266.5L285.2 269.8M364.2 280.9L373.1 279.4M364.2 280.9L363.2 291.6M373.1 279.4L377 287.2M363.2 291.6L373.2 292.7M373.2 292.7L377 287.2M381.6 272.3L375.2 274.8M387.2 286.9L377 287.2M375.2 274.8L373.1 279.4M358.9 294.8L363.2 291.6M366.6 306.6L374.3 304.5M376.5 301.5L374.3 304.5M376.5 301.5L373.2 292.7M352.1 255.3L352.4 259.1M338 256.7L350.7 260.5M350.7 260.5L352.4 259.1M365.9 251.9L363.6 260.3M352.4 259.1L363.6 260.3M375.2 274.8L366.2 265.3M364.2 280.9L359.3 276.4M359.3 276.4L366.2 265.3M383.1 263.6L380.5 259.1M380.5 259.1L366.1 263M366.2 265.3L366.1 263M428.3 237.2L414.1 238M414.1 238L414 237.9M419.9 222.5L413.2 225.7M413.2 225.7L414 237.9M418 250.5L409.5 255.7M418 250.5L414.1 238M404.2 249.2L405.8 240.7M414 237.9L405.8 240.7M411.1 207.3L407.9 207.8M407.9 207.8L406.7 206.4M295 309.2L294.4 304.4M295 309.2L291.1 313M294.4 304.4L282.5 297.5M291.1 313L277.2 313.5M277.2 313.5L279.4 299.9M279.4 299.9L282.5 297.5M291.7 325.9L291.1 313M303.7 313.6L295 309.2M292.1 286.6L297 289.5M283.7 290.6L282.5 297.5M297 289.5L298.3 299.9M298.3 299.9L294.4 304.4M276.5 314.2L277.2 313.5M268.2 297.7L279.4 299.9M372 320L366.9 329.3M372 320L380.3 318M380.3 318L381.2 318.3M381.2 318.3L382.2 330.2M366.9 329.3L378.5 332.9M378.5 332.9L382.2 330.2M364.3 330.5L366.9 329.3M363.5 311.9L372 320M374.3 304.5L380.3 318M363.1 333.2L364 338.4M377.5 342.6L375 344.3M377.5 342.6L378.5 332.9M389.9 345.5L377.5 342.6M389.9 345.5L389.8 332.8M389.8 332.8L382.2 330.2M401.8 335.9L396.8 328.7M411.1 325.4L403.5 323.7M396.8 328.7L403.5 323.7M389.8 332.8L396.4 328.7M381.2 318.3L388.6 315.5M396.4 328.7L388.6 315.5M412.9 311.4L401.8 312.6M403.5 323.7L401.8 312.6M390.4 290.7L402.9 296.4M390.4 290.7L386.2 300.8M386.2 300.8L392.6 310.1M402.9 296.4L403.2 298.3M403.2 298.3L397.4 309.5M397.4 309.5L392.6 310.1M390 289.3L390.4 290.7M407.8 289.5L402.9 296.4M376.5 301.5L386.2 300.8M388.6 315.5L392.6 310.1M416.3 304.5L403.2 298.3M401.8 312.6L397.4 309.5M396.8 328.7L396.4 328.7M452 228L452.4 229.1M419.2 265.4L426.2 254.9M428.8 237.7L428.4 242.8M418 250.5L426 253.5M377.7 248L381.9 252.1M377.7 248L378.2 241.7M381.9 252.1L390 249.3M381.7 235.4L386 235.4M386 235.4L391.6 242.4M390 249.3L391.6 242.4M380.5 259.1L381.9 252.1M370.6 248L377.7 248M363.6 260.3L366.1 263M394.8 252.4L390 249.3M405.8 240.7L400.7 237.9M400.7 237.9L391.6 242.4M317.7 293.5L324.2 298.1M317.7 293.5L310.4 295M324.2 298.1L318.6 306.4M318.6 306.4L310.9 306M310.9 306L308.2 299.2M310.4 295L308.2 299.2M330 280.7L332.2 286.5M330 280.7L329.8 280.7M319 283.5L329.8 280.7M319 283.5L317.7 293.5M325.3 298L324.2 298.1M322.6 314.4L318.6 306.4M307 312.5L310.9 306M298.3 299.9L308.2 299.2M305.8 287.2L297 289.5M305.8 287.2L310.4 295M287.1 199.9L281.3 198M281.3 198L283.2 194.7M306.5 211.3L293.1 213.7M293.1 213.7L292.6 213.2M292.6 213.2L292.6 209.5M278.9 212.4L279.3 212.7M278.9 212.4L278.9 210.5M278.8 208.5L278.5 199.1M278.5 199.1L281.3 198M279.3 212.7L292.6 213.2M233.8 226.9L244.1 235M233.8 226.9L228 232.3M228 232.3L230.1 244.2M230.1 244.2L242.4 244.2M244.1 235L244.1 242.2M244.1 242.2L242.4 244.2M234.5 222.4L233.8 226.9M214.2 230.6L228 232.3M222.6 253.2L230.1 244.2M244.2 257.9L242.4 244.2M257.8 244.1L258.5 251.7M257.8 244.1L244.1 242.2M255.2 367.4L238.7 374.7M248 354.3L235 360.1M238.7 374.7L236.6 373.1M235 360.1L236.6 373.1M226.7 349.8L226.1 353.7M235 360.1L226.1 353.7M196.6 359.9L193.1 372.6M196.6 359.9L210.1 355.5M214.8 369.1L215.5 358.6M214.8 369.1L197 377.5M197 377.5L193.1 372.6M210.1 355.5L215.5 358.6M187.1 348.5L196.6 359.9M175.9 369.7L193.1 372.6M205.5 342.2L210.1 355.5M236.6 373.1L221.8 377.6M221.8 377.6L214.8 369.1M226.1 353.7L215.5 358.6M235.6 395.1L240.1 378.3M235.6 395.1L236.9 396.6M236.9 396.6L247 398.5M251.9 384.1L252.2 395.7M251.9 384.1L240.1 378.3M252.2 395.7L247 398.5M238.7 374.7L240.1 378.3M220.7 382.8L227.5 393.6M220.7 382.8L221.8 377.6M227.5 393.6L235.6 395.1M231.3 416.6L236.9 396.6M231.3 416.6L231.2 416.6M231.2 416.6L216.2 403.8M227.5 393.6L216.2 403.8M231.3 416.6L232.8 417.1M246.5 413.3L232.8 417.1M248.5 410.3L247 398.5M263.5 398.3L266.7 396.6M263.5 398.3L252.2 395.7M257.8 379.8L251.9 384.1M106.5 360.7L106.9 362.5M372.3 374.8L378.8 380.9M372.3 374.8L361.1 377.2M361.4 379.9L361.1 377.2M320 355.7L327.2 360.6M327.2 360.6L328.7 365.1M318.9 375.3L327.2 369.8M328.7 365.1L327.2 369.8M358.2 348.1L354.7 349.4M346.1 341.3L346.2 343.7M354.7 349.4L346.2 343.7M328.2 343.4L337.9 349.6M346.2 343.7L337.9 349.6M327.2 360.6L337.6 351.8M337.6 351.8L337.9 349.6M361.2 364.3L353.1 359.6M361.2 364.3L360.9 377.1M360.9 377.1L352.9 376.4M352.9 376.4L345 368M353.1 359.6L345.4 364.3M345 368L344.8 365.7M344.8 365.7L345.4 364.3M367 361.7L361.2 364.3M367 361.7L367.7 353M354.7 349.4L353.1 359.6M374.8 365.3L372.3 374.8M374.8 365.3L367 361.7M361.1 377.2L360.9 377.1M337.6 351.8L345.4 364.3M337.1 378.6L345 368M336.2 378.8L327.2 369.8M328.7 365.1L344.8 365.7M380.7 380.7L387.9 368.3M388.5 385.6L395.4 384.4M396 383.8L395.4 384.4M396 383.8L395.8 382.3M388.5 368.7L387.9 368.3M397.1 383.8L396 383.8M408.4 403.8L404.5 404.1M404.5 404.1L409.3 417.1M409.3 417.1L409.9 417.3M404.9 396.9L401.6 401.7M395.4 384.4L397.7 398.9M397.7 398.9L401.6 401.7M383.9 397.6L384.9 399.5M397.7 398.9L384.9 399.5M384.9 399.5L383.9 403.2M404.5 404.1L401.9 402.6M401.6 401.7L401.9 402.6M400.6 422.1L400.6 421.9M400.6 421.9L395.2 411.7M395.2 411.7L391.6 411.8M409.3 417.1L400.6 421.9M401.9 402.6L395.2 411.7M349.6 265L355.7 276.6M349.6 265L338.2 273.2M338.2 273.2L338.1 273.4M338.1 273.4L349.4 282.2M349.4 282.2L355.7 276.6M350.7 260.5L349.6 265M359.3 276.4L355.7 276.6M334.1 265.2L338.2 273.2M330 280.7L338.1 273.4M329.8 280.7L321.1 268.1M324 264L321.7 265.5M321.7 265.5L321.1 268.1M348.7 288.5L349.4 282.2M406.7 221.9L398.6 230.9M406.7 221.9L404.7 217.2M404.7 217.2L398.6 217.1M398.6 230.9L392.1 228.5M413.2 225.7L406.7 221.9M400.7 237.9L398.6 230.9M407.9 207.8L404.7 217.2M386 235.4L391.3 228.7M257.8 244.1L259.6 241.7M267.9 257.5L276.9 247.5M259.6 241.7L271 241.3M271 241.3L276.9 247.5M288.1 259.4L284.9 266.5M288.1 259.4L280.2 247.5M280.2 247.5L276.9 247.5M252.5 228.5L250.8 220.6M252.5 228.5L258.2 231.7M258.2 231.7L267.7 226.5M250.8 220.6L263.1 213.8M267.7 226.5L266.1 215.9M263.1 213.8L266.1 215.9M246 217.9L250.8 220.6M244.1 235L252.5 228.5M259.6 241.7L258.2 231.7M271 241.3L272.6 229.8M272.6 229.8L267.7 226.5M245.2 203.5L259.7 203.2M260.2 203.7L259.7 203.2M260.2 203.7L263.1 213.8M278.9 212.4L266.1 215.9M279.3 212.7L281.6 228M272.6 229.8L281.6 228M278.5 199.1L276.9 198.3M276.9 198.3L260.2 203.7M313.4 251.8L312.8 258.8M313.4 251.8L301.3 247.8M312.8 258.8L304.4 264.5M304.4 264.5L296.6 257M296.6 257L300.4 248.2M300.4 248.2L301.3 247.8M314.4 251.1L313.4 251.8M321.7 265.5L312.8 258.8M306.7 235.8L308.3 235.9M306.7 235.8L301.3 247.8M288.1 259.4L296.6 257M280.2 247.5L287.9 239.3M287.9 239.3L300.4 248.2M314.2 272.9L304.5 268.7M314.2 272.9L314.5 280.8M307.1 283.7L300.2 274.1M307.1 283.7L314.5 280.8M300.2 274.1L304.5 268.7M321.1 268.1L314.2 272.9M304.4 264.5L304.5 268.7M319 283.5L314.5 280.8M293.6 275.8L300.2 274.1M305.8 287.2L307.1 283.7M256.1 183.6L256.2 183.8M276.9 198.3L273.5 192M259.7 203.2L259.8 190.4M225.1 423.2L231.2 416.6M216.2 403.8L215.4 403.8M215.4 403.8L214.9 404.7M352.9 376.4L350.6 379.3M387.1 365.9L387.6 365.6M387.1 365.9L382 362.1M381.9 358.8L390.8 346.5M381.9 358.8L382 362.1M392.1 346.8L392.6 347.6M392.1 346.8L390.8 346.5M387.9 368.3L387.1 365.9M374.8 365.3L382 362.1M373.7 349.9L381.9 358.8M389.9 345.5L390.8 346.5M393.9 345.8L392.1 346.8M288 238.3L283.6 229M288 238.3L302 230.9M283.6 229L293.6 221.7M293.6 221.7L301.7 227.4M301.7 227.4L302 230.9M287.9 239.3L288 238.3M281.6 228L283.6 229M306.7 235.8L302 230.9M293.1 213.7L293.6 221.7M309.4 219L301.7 227.4M263.5 398.3L263.3 400M242.6 429.1L245.6 428.4M242.6 429.1L240.9 433.4M232.8 417.1L242.6 429.1M206.9 389.9L207.1 393M206.9 389.9L197.2 380.5M197.2 380.5L186.8 391.5M186.8 391.5L188.5 399.3M220.7 382.8L206.9 389.9M215.4 403.8L213.8 402.3M197 377.5L197.2 380.5M175.9 388.2L186.8 391.5"/>
<clipPath id="cu"><use href="#us"/></clipPath>
</defs>
<rect x="2" y="70" width="1434" height="14" fill="url(#sh)"/>
<rect x="0" y="0" width="1436" height="72" fill="#1f497d"/>
<g font-size="35.5"><text x="-1" y="47.6" fill="#6fc4c0" textLength="124" lengthAdjust="spacingAndGlyphs" stroke="#1f497d" stroke-width="0.9">weather</text><text x="123.5" y="47.6" fill="#a5c432" textLength="88.5" lengthAdjust="spacingAndGlyphs" stroke="#1f497d" stroke-width="0.9">trends</text><text x="216" y="47.6" fill="#58a9e0" textLength="50.5" lengthAdjust="spacingAndGlyphs" stroke="#1f497d" stroke-width="1.4">360</text></g>
<text x="15" y="63.3" font-size="11.6" fill="#8c9fbe" textLength="176" lengthAdjust="spacingAndGlyphs">better business in any weather</text><text x="191.5" y="58.5" font-size="5.5" fill="#8c9fbe">®</text>
<path d="M 217.6 54 A 30.5 30.5 0 1 0 226.5 12.3" fill="none" stroke="#a9cfe8" stroke-width="0.9"/><circle cx="270.5" cy="24" r="3.2" fill="#a5c432"/>
<g font-size="43" font-weight="bold" fill="#fff"><text x="295.5" y="51.7" textLength="155.5" lengthAdjust="spacingAndGlyphs">October</text><text x="467.0" y="51.7" textLength="147.1" lengthAdjust="spacingAndGlyphs">Climate</text><text x="628.5" y="51.7" textLength="122.1" lengthAdjust="spacingAndGlyphs">Cycles</text><text x="762.0" y="51.7" textLength="26.7" lengthAdjust="spacingAndGlyphs">–</text><text x="798.0" y="51.7" textLength="80.1" lengthAdjust="spacingAndGlyphs">Hint</text><text x="893.0" y="51.7" textLength="38.1" lengthAdjust="spacingAndGlyphs">at</text><text x="944.0" y="51.7" textLength="314.0" lengthAdjust="spacingAndGlyphs">Colder/Snowier</text><text x="1270.5" y="51.7" textLength="153.6" lengthAdjust="spacingAndGlyphs">Winter!</text></g>
<g transform="translate(0,0) scale(1,1)">
<g fill="#1a1a1a" text-anchor="middle"><text x="247.4" y="118.9" font-size="12.3" textLength="421.5" lengthAdjust="spacing">NOAA/NCDC Climate Division Composite Temperature Anomalies (F)</text><text x="247.4" y="134.0" font-size="13.2" textLength="221" lengthAdjust="spacing" xml:space="preserve">Nov   1960,1966,1983,2010,2014</text><text x="247.4" y="147.8" font-size="9.2" fill="#111" stroke="#111" stroke-width="0.25" textLength="186" lengthAdjust="spacing">Versus 1981−2010 Longterm Average</text><text x="371.5" y="464.3" font-size="7.6" fill="#111" stroke="#111" stroke-width="0.15" textLength="141" lengthAdjust="spacing">NOAA/ESRL PSD and CIRES−CU</text></g>
<g clip-path="url(#cu)"><path fill="#50ffaf" d="M121.4 182.6L121.4 175.1L260 175.1L260 284.5L256.5 283.7L245.6 285.4L247.3 303.8L224.7 302.9L223.9 294.6L204.7 293.7L203.8 285.4L218.9 284.5L218.9 274.5L203.8 274.5L188.8 273.7L177.9 272.8L176.3 260.3L170.4 254.5L162.1 252.8L152 254.5L147 245.3L142.8 241.1L145.3 236.9L144.5 231.1L137.8 226.9L137 215.2L133.6 208.5L128.6 205.2L127.8 196L125.3 190.1Z"/><path fill="#50ffaf" d="M240 175.1L357 175.1L357 257L373.7 250.3L378.7 245.3L385.4 241.1L412.1 240.3L423.8 245.3L428.9 250.3L480 250.3L480 320L284.3 320L285.1 308.8L284.3 301.3L298.5 298.7L299.3 293.7L293.5 288.7L295.2 283.7L301 278.7L299.3 269.5L291.8 272L290.1 267L277.6 267L265.1 267.8L265.1 273.7L255.9 284.5L255.9 288.7L245.8 288.7L246.7 302.9L240 302.9Z"/><path fill="#50ffaf" d="M296.8 290L296.8 293.3L300.2 297.5L285.1 301.7L284.3 310.1L286 319.2L280.9 320.9L280.1 334.3L273.4 340.1L269.2 347.7L272.6 356L279.3 356.9L280.9 368.6L284.3 376.9L279.3 381.9L277.6 391.1L277.6 460L480 460L480 290Z"/><path fill="#14ffeb" d="M121.4 182.6L121.4 175.1L260 175.1L260 267L250.6 267L250.6 253.6L204.7 253.6L203.8 274.5L188.8 273.7L188 258.6L177.1 251.9L163.7 251.9L163.7 245.3L147 245.3L144.5 231.1L137.8 226.9L137 215.2L133.6 208.5L128.6 205.2L127.8 196L125.3 190.1Z"/><path fill="#14ffeb" d="M240 175.1L347 175.1L347 216L318.6 216L313.5 216.9L300.2 216.9L300.2 228.6L295.2 230.2L295.2 243.6L278.4 243.6L278.4 257L263.4 255.3L263.4 267L255 267L255 257L240 257Z"/><path fill="#14ffeb" d="M284.3 301.3L298.5 298.7L308.5 297.1L309.4 283.7L313.5 282L313.5 270.3L319.4 270.3L319.4 258.6L326.9 258.6L357 257L373.7 250.3L373.7 258.6L387.1 250.3L407.1 250.3L407.1 265.3L410.5 267L417.2 267L417.2 280.4L423.8 280.4L480 280.4L480 320L284.3 320L285.1 308.8Z"/><path fill="#14ffeb" d="M234.8 426.2L244 427L246.5 433.7L240.6 432.9L233.1 430.4Z"/><path fill="#14ffeb" d="M296.8 290L296.8 293.3L300.2 297.5L285.1 301.7L284.3 310.1L286 319.2L295.2 320.1L293.5 329.3L290.1 338.5L296 345.2L297.7 350.2L299.3 360.2L296.8 368.6L285.1 370.2L286 380.3L293.5 383.6L293.5 391.9L303.5 394.5L303.5 460L480 460L480 290Z"/><path fill="#00d7ff" d="M121.4 182.6L121.4 175.1L260 175.1L260 243.6L208.9 243.6L208.9 252.8L188.8 252.8L188 258.6L177.1 251.9L174.6 240.3L177.9 231.9L168.7 228.6L163.7 230.2L163.7 245.3L147 245.3L144.5 231.1L137.8 226.9L137 215.2L133.6 208.5L128.6 205.2L127.8 196L125.3 190.1Z"/><path fill="#00d7ff" d="M235.6 277L255.7 277L257.3 283.7L235.6 283.7Z"/><path fill="#00d7ff" d="M240 175.1L252.5 175.1L253.4 213.5L288.5 213.5L288.5 236.9L261.7 236.9L261.7 250.3L246.7 250.3L246.7 246.9L240 246.9Z"/><path fill="#00d7ff" d="M309.4 283.7L313.5 282L320.2 273.7L326.9 270.3L340.3 267L357 267L367 265.3L373.7 270.3L385.4 270.3L396.3 267L405.5 277L412.1 283.7L417.2 290.4L423.8 300.4L480 300.4L480 320L298.5 320L310.2 308.8L308.5 297.1Z"/><path fill="#00d7ff" d="M307.7 290L308.5 295L313.5 306.7L306 311.7L298.5 315.1L304.3 319.2L306.9 325.9L306 331.8L313.5 332.6L315.2 341L323.1 341.8L323.6 370.2L332.8 371.9L333.6 376.1L333.6 460L480 460L480 290Z"/><path fill="#0096ff" d="M121.4 182.6L121.4 175.1L210.5 175.1L210.5 190.1L212.2 195.1L217.2 200.1L217.2 207.7L220.6 216.9L244.8 216.9L244.8 231.9L190.5 231.9L190.5 231.1L170.4 228.6L168.7 215.2L162.9 213.5L157 215.2L147 213.5L137 215.2L133.6 208.5L128.6 205.2L127.8 196L125.3 190.1Z"/><path fill="#0096ff" d="M240 215.2L245 215.2L245 233.6L240 233.6Z"/><path fill="#0096ff" d="M398.8 310.4L407.1 307.9L422.2 310.4L480 310.4L480 320L397.1 320Z"/><path fill="#0096ff" d="M333.6 372.7L355.3 368.6L355.3 356.9L361.2 354.3L360.3 340.1L370.4 338.5L373.7 340.1L382.1 337.6L380.4 321.8L390.4 323.4L397.1 315.1L407.1 308.4L423.8 306.7L480 306.7L480 398.6L407.1 399.5L385.4 406.2L373.7 407L333.6 383.6Z"/><path fill="#0064ff" d="M121.4 182.6L121.4 175.1L210.5 175.1L210.5 190.1L212.2 195.1L217.2 200.1L217.2 207.7L220.6 216.9L221.4 221L190.5 221.9L190.5 231.1L170.4 228.6L168.7 215.2L162.9 212.7L162.1 201.8L153.7 198.5L147 201L140.3 197.6L133.6 199.3L127.8 195.1L125.3 190.1Z"/><path fill="#0032ff" d="M121.4 182.6L121.4 175.1L167.9 175.1L167.9 188.8L167.1 200.1L162.9 201L153.7 198.5L147 201L140.3 197.6L133.6 199.3L127.8 195.1L125.3 190.1Z"/><path fill="#ffff00" d="M82.7 175.1L84.3 185.9L91.9 194.3L86 207.7L70.1 207.7L67.6 203.5L73.5 191.8L75.2 185.1Z"/><path fill="#ffff00" d="M49.2 199.3L51.8 205.2L58.4 207.7L54.3 226L47.6 226L40.9 219.4L46.7 208.5Z"/><path fill="#ffff00" d="M82.7 226.9L88.5 226L91 231.9L94.4 223.5L98.6 224.4L98.2 233.6L103.6 241.1L113.6 238.6L112.8 226.9L116.9 220.2L121.9 230.2L135.3 231.1L136.5 258.3L111.1 257L87.7 251.9L78.5 249.9Z"/><path fill="#ffff00" d="M63.8 248.6L86 251.9L84.3 265.3L78.8 267L76.8 278.7L66 280.4L64.3 284.5L58.1 275.3Z"/><path fill="#ffff00" d="M110.3 257L136.5 258.3L135.3 273.7L147 274.5L146.7 276.2L137 277.4L135.3 282L128.6 285.4L127 297.1L132 300.4L120.3 308.8L111.1 306.3L103.1 304.6L106.9 280.4Z"/><path fill="#ffff00" d="M439.1 170.3L446.6 168.1L451 170.3L455.8 183.2L439.1 205.3L434.8 216.1L432.6 215.1L431.5 207.5L428.8 217.2L426.1 225.8L420.7 221.5L414.3 209.1L412.1 207.5L403.5 215.1L401.3 214L405.6 207.5L413.2 205.3L430.4 199.9L434.8 194.5L436.4 181.6Z"/><path fill="#ffff00" d="M463.9 189.7L462.8 192.4L453.1 198.9L451 204.3L445.6 208.6L443.9 217.2L440.7 216.1L444.5 207.5L449.9 199.9L456.4 194.5L461.8 189.7Z"/><path fill="#ffffff" d="M323.6 233.6L331.1 231.9L333.6 243.6L332.8 253.6L327.7 257L323.6 250.3Z"/><path fill="#ffffff" d="M344.5 231.9L350.3 230.2L355.3 236.9L355.3 245.3L348.6 240.3L343.6 238.6Z"/><path fill="#ffff00" d="M143.7 314.2L161.2 315.1L160.1 320.9L148.7 330.9L147.9 338.5L142.8 338.5Z"/><path fill="#ffff00" d="M211.4 336L215.5 332.6L219.7 333.5L220.6 339.3L232.3 338.5L235.6 332.6L236.4 327.6L245.6 325.1L252.3 327.6L253.1 334.3L244 339.3L237.3 341L235.6 346.8L228.9 351.8L224.7 358.5L226.4 374.4L218.9 373.6L217.2 368.6L208.9 366.9L204.7 361.9L207.2 356L210.5 354.3Z"/><path fill="#50ffaf" d="M299.3 347.7L304.3 346.8L307.7 356.9L302.7 360.2L299.3 359.4Z"/><use href="#ms" fill="none" stroke="#0a1014" stroke-width="0.72" stroke-opacity="0.9"/></g>
<use href="#bd" fill="none" stroke="#0a1014" stroke-width="0.8" stroke-opacity="0.9"/><use href="#us" fill="none" stroke="#0a1014" stroke-width="0.9" stroke-opacity="0.9"/>
<rect x="30.30" y="467.6" width="30.73" height="24.7" fill="#0032ff" stroke="#222" stroke-width="0.6"/><rect x="61.03" y="467.6" width="30.73" height="24.7" fill="#0064ff" stroke="#222" stroke-width="0.6"/><rect x="91.76" y="467.6" width="30.73" height="24.7" fill="#0096ff" stroke="#222" stroke-width="0.6"/><rect x="122.49" y="467.6" width="30.73" height="24.7" fill="#00d7ff" stroke="#222" stroke-width="0.6"/><rect x="153.21" y="467.6" width="30.73" height="24.7" fill="#14ffeb" stroke="#222" stroke-width="0.6"/><rect x="183.94" y="467.6" width="30.73" height="24.7" fill="#50ffaf" stroke="#222" stroke-width="0.6"/><rect x="214.67" y="467.6" width="30.73" height="24.7" fill="#ffffff" stroke="#222" stroke-width="0.6"/><rect x="245.40" y="467.6" width="30.73" height="24.7" fill="#ffffff" stroke="#222" stroke-width="0.6"/><rect x="276.13" y="467.6" width="30.73" height="24.7" fill="#ffff00" stroke="#222" stroke-width="0.6"/><rect x="306.86" y="467.6" width="30.73" height="24.7" fill="#ffc800" stroke="#222" stroke-width="0.6"/><rect x="337.59" y="467.6" width="30.73" height="24.7" fill="#ff9100" stroke="#222" stroke-width="0.6"/><rect x="368.31" y="467.6" width="30.73" height="24.7" fill="#ff5500" stroke="#222" stroke-width="0.6"/><rect x="399.04" y="467.6" width="30.73" height="24.7" fill="#ff1900" stroke="#222" stroke-width="0.6"/><rect x="429.77" y="467.6" width="30.73" height="24.7" fill="#d70000" stroke="#222" stroke-width="0.6"/><g font-size="17" fill="#3a3a3a" text-anchor="middle"><text x="66.2" y="510.5" textLength="37.7" lengthAdjust="spacingAndGlyphs">−3.0</text><text x="127.7" y="510.5" textLength="37.7" lengthAdjust="spacingAndGlyphs">−2.0</text><text x="189.1" y="510.5" textLength="37.7" lengthAdjust="spacingAndGlyphs">−1.0</text><text x="253.8" y="510.5" textLength="27.2" lengthAdjust="spacingAndGlyphs">0.0</text><text x="315.9" y="510.5" textLength="27.2" lengthAdjust="spacingAndGlyphs">1.0</text><text x="377.3" y="510.5" textLength="27.2" lengthAdjust="spacingAndGlyphs">2.0</text><text x="438.8" y="510.5" textLength="27.2" lengthAdjust="spacingAndGlyphs">3.0</text></g>
</g>
<g transform="translate(465.9,3.53) scale(0.9986,0.9955)">
<g fill="#1a1a1a" text-anchor="middle"><text x="247.4" y="118.9" font-size="12.3" textLength="421.5" lengthAdjust="spacing">NOAA/NCDC Climate Division Composite Temperature Anomalies (F)</text><text x="247.4" y="134.0" font-size="13.2" textLength="221" lengthAdjust="spacing" xml:space="preserve">Dec   1960,1966,1983,2010,2014</text><text x="247.4" y="147.8" font-size="9.2" fill="#111" stroke="#111" stroke-width="0.25" textLength="186" lengthAdjust="spacing">Versus 1981−2010 Longterm Average</text><text x="371.5" y="464.3" font-size="7.6" fill="#111" stroke="#111" stroke-width="0.15" textLength="141" lengthAdjust="spacing">NOAA/ESRL PSD and CIRES−CU</text></g>
<g clip-path="url(#cu)"><path fill="#0082ff" d="M239.4 147.1L479.8 147.1L479.8 317.9L239.4 317.9Z"/><path fill="#0082ff" d="M239.4 287.8L479.8 287.8L479.8 458.5L239.4 458.5Z"/><path fill="#64ff96" d="M167.2 287.8L169.8 297.8L176.5 309.6L176.5 314.6L188.2 316.3L186.5 321.3L179.8 326.4L174.8 336.5L173.9 366.7L161.4 368.4L176.5 386.8L179.8 393.5L189.8 400.2L196.5 391.9L204.9 391.9L214.9 401.9L225 420.4L235 430.5L246.7 433.8L259.5 433.8L259.5 287.8Z"/><path fill="#3cffc8" d="M121.6 182.4L125.4 192.5L127.1 199.2L129.6 205.9L134.6 214.3L139.6 216L137.1 225.2L143.8 229.4L143 241.1L151.3 254.6L161.4 254.6L176.5 258.8L176.5 272.2L167.2 273.9L173.1 281.4L167.2 291.5L169.8 301.6L176.5 314.2L176.5 317.9L259.5 317.9L259.5 172.3L121.6 172.3Z"/><path fill="#3cffc8" d="M167.2 287.8L169.8 297.8L176.5 309.6L176.5 314.6L188.2 316.3L186.5 321.3L179.8 326.4L174.8 336.5L173.9 366.7L199 369.2L199.9 378.4L204.9 385.1L204.1 391.9L214.9 401.9L225 420.4L235 430.5L246.7 433.8L259.5 433.8L259.5 287.8Z"/><path fill="#0affff" d="M121.6 182.4L125.4 192.5L127.1 199.2L129.6 205.9L134.6 214.3L139.6 216L137.1 225.2L143.8 229.4L163.1 230.2L164.7 251.2L176.5 252.1L188.2 256.3L188.2 273L201.6 274.7L194.9 281.4L191.5 291.5L179.8 294.9L167.2 291.5L169.8 301.6L176.5 314.2L176.5 317.9L259.5 317.9L259.5 172.3L121.6 172.3Z"/><path fill="#0affff" d="M169.8 297.8L179.8 295.3L191.5 292.8L196.5 287.8L259.5 287.8L259.5 433.8L246.7 433.8L235 430.5L225 420.4L214.9 401.9L204.1 391.9L204.9 385.1L199.9 378.4L199 369.2L194 368.4L194 316.3L176.5 314.6L176.5 309.6Z"/><path fill="#00d2ff" d="M121.6 182.4L125.4 192.5L127.1 197.5L132.9 196.7L139.6 195L146.3 200.9L153 195.8L161.4 197.5L162.2 214.3L138 215.1L137.1 225.2L169.8 227.7L174.8 231.1L173.9 241.1L176.5 252.1L188.2 256.3L188.2 273L201.6 274.7L203.2 317.9L259.5 317.9L259.5 172.3L121.6 172.3Z"/><path fill="#00d2ff" d="M203.2 287.8L203.2 314.6L220 316.3L220 331.4L211.6 336.5L209.9 354.9L204.9 361.6L208.2 371.7L216.6 371.7L218.3 375.1L235 375.1L236.7 381.8L231.7 388.5L243.4 386.8L253.4 381.8L259.5 388.5L259.5 287.8Z"/><path fill="#00a5ff" d="M121.6 182.4L125.4 192.5L127.1 197.5L132.9 196.7L139.6 195L146.3 200.9L153 195.8L161.4 197.5L162.2 214.3L169.8 214.3L169.8 227.7L189.8 228.6L189.8 317.9L259.5 317.9L259.5 172.3L121.6 172.3Z"/><path fill="#00a5ff" d="M381.7 231.1L400.1 221L406.8 222.7L420.2 226L421.9 241.1L406.8 247.9L396.8 246.2L386.7 241.1L378.3 244.5Z"/><path fill="#00a5ff" d="M277.9 212.6L294.7 205.9L338.2 205.9L339.9 214.3L346.5 219.3L354.9 234.4L354.9 244.5L346.5 254.6L326.5 256.3L323.1 231.1L313.1 229.4L313.1 254.6L294.7 254.6L296.3 264.7L289.6 274.7L277.9 271.4L264.5 264.7L264.5 254.6L277.9 246.2L289.6 241.1L289.6 226L283 221Z"/><path fill="#00a5ff" d="M396.8 247.9L406.8 247.9L425.2 249.5L426 263L416.8 264.7L406.8 263L400.1 254.6Z"/><path fill="#00a5ff" d="M203.2 287.8L203.2 314.6L220 316.3L221.6 328.1L220 343.2L236.7 348.2L256.8 346.5L259.5 354.9L259.5 287.8Z"/><path fill="#00a5ff" d="M239.4 326.4L261.2 324.7L276.3 338.1L289.6 343.2L303 334.8L323.1 332.3L346.5 328.1L356.6 324.7L373.3 319.7L381.7 321.3L393.4 329.7L381.7 338.1L386.7 349.9L376.7 353.2L354.9 354.9L354.9 368.4L366.6 371.7L356.6 383.5L319.8 395.2L239.4 438.9Z"/><path fill="#0082ff" d="M121.6 182.4L125.4 192.5L127.1 197.5L132.9 196.7L139.6 195L146.3 200.9L153 195.8L161.4 197.5L162.2 214.3L169.8 214.3L169.8 227.7L189.8 228.6L189.8 251.2L204.9 251.2L204.9 317.9L259.5 317.9L259.5 172.3L121.6 172.3Z"/><path fill="#0082ff" d="M223.3 287.8L224.1 304.6L225 326.4L236.7 328.1L245.1 324.7L259.5 329.7L259.5 287.8Z"/><path fill="#005aff" d="M121.6 182.4L125.4 192.5L127.1 197.5L132.9 196.7L139.6 195L146.3 200.9L153 195.8L161.4 197.5L166.4 197.5L168.1 187.4L168.1 172.3L121.6 172.3Z"/><path fill="#005aff" d="M225 189.1L225 199.2L216.6 202.5L208.2 205.9L206.6 221L204.9 251.2L218.3 254.6L218.3 274.7L233.4 276.4L235 256.3L250.1 257.9L259.5 264.7L259.5 172.3L225 172.3Z"/><path fill="#005aff" d="M223.3 284.8L245.1 284.8L245.1 303.3L223.3 303.3Z"/><path fill="#005aff" d="M252 187.4L256.2 185.7L269.6 192.5L294.7 195.8L279.6 210.9L264.5 210.9L256.2 214.3L246.1 214.3L239.4 210.9L239.4 189.1Z"/><path fill="#005aff" d="M306.4 254.6L326.5 257.9L346.5 256.3L356.6 257.9L373.3 249.5L385 244.5L396.8 247.9L400.1 254.6L396.8 264.7L406.8 264.7L413.5 274.7L420.2 281.4L423.5 298.2L423.5 317.9L284.6 317.9L284.6 289.8L296.3 286.5L289.6 274.7L296.3 264.7L306.4 263Z"/><path fill="#005aff" d="M224.1 291.1L245.1 291.1L245.1 304.6L224.1 304.6Z"/><path fill="#005aff" d="M264.5 304.6L284.6 302.9L298 311.3L309.7 314.6L321.4 314.6L321.4 329.7L306.4 332.8L298 329.7L289.6 333.1L281.3 321.3L266.2 319.7Z"/><path fill="#005aff" d="M329.8 287.8L366.6 287.8L363.3 297.8L348.2 309.6L339.9 311.3L329.8 304.6Z"/><path fill="#005aff" d="M378.3 311.3L406.8 304.6L423.5 297.8L479.8 297.8L479.8 371.7L390.1 371.7L386.7 351.6L376.7 353.2L378.3 338.1L390.1 329.7L396.8 318L386.7 316.3Z"/><path fill="#005aff" d="M381.7 395.2L400.1 390.2L405.1 398.6L390.1 405.3L385 403.6Z"/><path fill="#0032ff" d="M231.7 202.5L243.4 202.5L245.1 221L220 221L220.8 211.8L231.7 211.8Z"/><path fill="#0032ff" d="M248.4 231.1L259.5 231.1L259.5 241.1L248.4 241.1Z"/><path fill="#0032ff" d="M247 236.1L257.8 236.1L257.8 246.2L247 246.2Z"/><path fill="#0032ff" d="M311.4 264.7L323.1 264.7L323.1 279.8L311.4 279.8Z"/><path fill="#0032ff" d="M326.5 271.4L339.9 268L348.2 264.7L356.6 268L363.3 263L370 268L363.3 278.1L354.9 286.5L346.5 281.4L333.2 283.1L326.5 279.8Z"/><path fill="#0032ff" d="M338.2 286.5L353.2 286.5L353.2 298.2L338.2 298.2Z"/><path fill="#0032ff" d="M331.5 296.6L346.5 296.6L346.5 308.3L331.5 308.3Z"/><path fill="#0032ff" d="M373.3 283.1L388.4 279.8L388.4 291.5L373.3 293.2Z"/><path fill="#0032ff" d="M413.5 268L421.9 268L421.9 278.1L413.5 278.1Z"/><path fill="#0032ff" d="M331.5 297.8L341.5 291.1L353.2 287.8L354.9 294.5L348.2 304.6L343.2 311.3L333.2 307.9Z"/><path fill="#f5ff14" d="M19.1 147.1L107 147.1L107 179.9L102 183.2L102.8 187.4L99.5 197.5L97 204.2L97.8 210.9L91.1 221L97.8 223.5L97 229.4L98.6 237.8L106.2 242.8L116.2 241.1L121.2 232.8L136.3 229.4L143.8 234.4L136.3 246.2L133.8 254.6L132.9 268.8L148 271.4L167.2 273.9L173.1 281.4L167.2 291.5L169.8 301.6L176.5 314.2L176.5 317.9L19.1 317.9Z"/><path fill="#f5ff14" d="M19.1 287.8L167.2 287.8L169.8 297.8L176.5 309.6L176.5 314.6L161.4 314.6L158 324.7L154.7 331.4L153 353.2L148 358.3L143 353.2L139.6 348.2L138.8 458.5L19.1 458.5Z"/><path fill="#ffe100" d="M19.1 238.6L32.5 238.6L49.3 240.3L50.1 221L44.2 219.3L45.9 202.5L57.6 204.2L58.5 214.3L75.2 217.6L76 222.7L91.1 221L97.8 223.5L97 229.4L98.6 237.8L106.2 242.8L116.2 241.1L117 254.6L126.2 256.3L127.9 286.5L136.3 286.5L148 286.5L147.2 308.3L161.4 303.3L169.8 301.6L176.5 314.2L176.5 317.9L19.1 317.9Z"/><path fill="#ffe100" d="M19.1 287.8L144.7 287.8L143.8 312.9L159.7 313.8L158 324.7L154.7 331.4L153 353.2L148 358.3L143 353.2L140.5 346.5L129.6 349.9L126.2 358.3L101.1 355.8L89.4 351.6L19.1 351.6Z"/><path fill="#ffe100" d="M158 306.2L166.4 301.2L173.1 306.2L176.5 313.8L161.4 314.3Z"/><path fill="#ffaf00" d="M25.8 241.1L61 243.7L86.1 249.5L84.4 264.7L77.7 274.7L89.4 279.8L104.5 284.8L104.5 311.7L89.4 308.3L66 281.4L57.6 279.8L40.9 279.8L29.2 264.7Z"/><path fill="#ffaf00" d="M50.9 222.7L56.8 221L61 231.1L56.8 237.8L50.1 236.1Z"/><path fill="#ffaf00" d="M102.8 241.1L112.9 236.1L117 241.1L115.4 249.5L106.2 248.7Z"/><path fill="#ffaf00" d="M109.5 254.6L126.2 256.3L127.9 286.5L136.3 286.5L146.3 286.5L144.7 312.5L106.2 310.8L105.3 284.8L107.8 264.7Z"/><path fill="#ffaf00" d="M61.8 318L66 297.8L77.7 304.6L92.8 336.5L102.8 338.1L101.1 354.9L89.4 351.6L74.4 347.4L75.2 331.4L63.5 323.9Z"/><path fill="#ffaf00" d="M104.5 287.8L144.7 287.8L143.8 312.9L122.9 310.4L109.5 307.9L102.8 304.6Z"/><path fill="#ff8700" d="M59.3 242.8L86.1 249.5L84.4 264.7L77.7 274.7L89.4 279.8L104.5 284.8L104.5 298.2L92.8 301.6L89.4 308.3L66 281.4L57.6 274.7Z"/><path fill="#ff8700" d="M61 287.8L104.5 287.8L102.8 304.6L97.8 302.9L92.8 312.9L86.9 313.8L77.7 302.9L69.3 294.5Z"/><path fill="#ff5a00" d="M61.8 243.7L86.1 249.5L84.4 264.7L77.7 274.7L66 276.4L63.5 281.4L58.5 273Z"/><path fill="#00a5ff" d="M192.3 189.1L209.9 189.1L209.9 199.2L192.3 199.2Z"/><path fill="#ffffff" d="M67.7 174L81.1 174L76 182.4L89.4 189.1L91.1 197.5L86.1 202.5L86.1 211.8L67.7 214.3L58.5 211.8L59.3 202.5L57.6 197.5L64.3 194.1Z"/><path fill="#ffffff" d="M136.3 276.4L147.2 275.6L147.2 284.8L142.1 286.5L137.1 284Z"/><path fill="#ffffff" d="M436.9 169L450.3 168.1L455.3 182.4L464.5 189.1L457 197.5L443.6 214.3L439.4 213.4L434.4 197.5L435.3 180.7Z"/><path fill="#0affff" d="M402.6 214.3L406.8 207.6L416.8 204.2L431.9 199.2L434.4 197.5L439.4 213.4L442.8 221L448.6 229.4L443.6 234.4L433.6 241.1L425.2 247.9L421.9 241.1L420.2 226L406.8 222.7L400.9 221Z"/><path fill="#3cffc8" d="M431.9 197.5L434.4 197.5L435.3 210.9L432.7 215.1L431.1 210.9Z"/><path fill="#00d2ff" d="M405.1 223.5L420.2 226L421.9 241.1L411.8 246.2L406 241.1Z"/><path fill="#00d2ff" d="M374.2 306.6L383.4 304.9L385 310.8L375 313.3Z"/><path fill="#f5ff14" d="M40.9 317.1L45.9 316.6L61 323.9L74.4 331.4L73 349L66.8 348.2L59.3 336.5L42.6 323.9Z"/><path fill="#00d2ff" d="M239.4 346.5L261.2 348.2L274.6 354.9L275.4 363.3L297.2 368.4L298 358.3L306.4 348.2L314.7 346.5L323.1 351.6L323.1 360L326.5 354.9L348.2 353.2L349.9 360L333.2 363.3L332.3 375.1L323.1 376.7L319.8 395.2L239.4 438.9Z"/><path fill="#0affff" d="M239.4 376.7L249.5 375.1L256.2 354.9L261.2 349.9L272.9 351.6L274.6 363.3L279.6 375.1L284.6 381.8L294.7 385.1L297.2 392.7L272.9 395.2L239.4 438.9Z"/><path fill="#00d2ff" d="M373.3 306.2L383.4 304.6L385 310.4L375 312.9Z"/><use href="#ms" fill="none" stroke="#0a1014" stroke-width="0.72" stroke-opacity="0.9"/></g>
<use href="#bd" fill="none" stroke="#0a1014" stroke-width="0.8" stroke-opacity="0.9"/><use href="#us" fill="none" stroke="#0a1014" stroke-width="0.9" stroke-opacity="0.9"/>
<rect x="30.30" y="467.6" width="23.90" height="24.7" fill="#0032ff" stroke="#222" stroke-width="0.6"/><rect x="54.20" y="467.6" width="23.90" height="24.7" fill="#005aff" stroke="#222" stroke-width="0.6"/><rect x="78.10" y="467.6" width="23.90" height="24.7" fill="#0082ff" stroke="#222" stroke-width="0.6"/><rect x="102.00" y="467.6" width="23.90" height="24.7" fill="#00a5ff" stroke="#222" stroke-width="0.6"/><rect x="125.90" y="467.6" width="23.90" height="24.7" fill="#00d2ff" stroke="#222" stroke-width="0.6"/><rect x="149.80" y="467.6" width="23.90" height="24.7" fill="#0affff" stroke="#222" stroke-width="0.6"/><rect x="173.70" y="467.6" width="23.90" height="24.7" fill="#3cffc8" stroke="#222" stroke-width="0.6"/><rect x="197.60" y="467.6" width="23.90" height="24.7" fill="#64ff96" stroke="#222" stroke-width="0.6"/><rect x="221.50" y="467.6" width="23.90" height="24.7" fill="#ffffff" stroke="#222" stroke-width="0.6"/><rect x="245.40" y="467.6" width="23.90" height="24.7" fill="#ffffff" stroke="#222" stroke-width="0.6"/><rect x="269.30" y="467.6" width="23.90" height="24.7" fill="#f5ff14" stroke="#222" stroke-width="0.6"/><rect x="293.20" y="467.6" width="23.90" height="24.7" fill="#ffe100" stroke="#222" stroke-width="0.6"/><rect x="317.10" y="467.6" width="23.90" height="24.7" fill="#ffaf00" stroke="#222" stroke-width="0.6"/><rect x="341.00" y="467.6" width="23.90" height="24.7" fill="#ff8700" stroke="#222" stroke-width="0.6"/><rect x="364.90" y="467.6" width="23.90" height="24.7" fill="#ff5a00" stroke="#222" stroke-width="0.6"/><rect x="388.80" y="467.6" width="23.90" height="24.7" fill="#ff2d00" stroke="#222" stroke-width="0.6"/><rect x="412.70" y="467.6" width="23.90" height="24.7" fill="#ff0000" stroke="#222" stroke-width="0.6"/><rect x="436.60" y="467.6" width="23.90" height="24.7" fill="#c80000" stroke="#222" stroke-width="0.6"/><g font-size="13.2" fill="#3a3a3a" text-anchor="middle"><text x="58.7" y="505.8" textLength="29.3" lengthAdjust="spacingAndGlyphs">−4.0</text><text x="106.5" y="505.8" textLength="29.3" lengthAdjust="spacingAndGlyphs">−3.0</text><text x="154.3" y="505.8" textLength="29.3" lengthAdjust="spacingAndGlyphs">−2.0</text><text x="202.1" y="505.8" textLength="29.3" lengthAdjust="spacingAndGlyphs">−1.0</text><text x="250.9" y="505.8" textLength="21.1" lengthAdjust="spacingAndGlyphs">0.0</text><text x="299.4" y="505.8" textLength="21.1" lengthAdjust="spacingAndGlyphs">1.0</text><text x="347.2" y="505.8" textLength="21.1" lengthAdjust="spacingAndGlyphs">2.0</text><text x="395.0" y="505.8" textLength="21.1" lengthAdjust="spacingAndGlyphs">3.0</text><text x="442.8" y="505.8" textLength="21.1" lengthAdjust="spacingAndGlyphs">4.0</text></g>
</g>
<g transform="translate(930.0,0.1) scale(1.004,1.001)">
<g fill="#1a1a1a" text-anchor="middle"><text x="247.4" y="118.9" font-size="12.3" textLength="421.5" lengthAdjust="spacing">NOAA/NCDC Climate Division Composite Temperature Anomalies (F)</text><text x="247.4" y="134.0" font-size="13.2" textLength="221" lengthAdjust="spacing" xml:space="preserve">Jan   1961,1967,1984,2011,2015</text><text x="247.4" y="147.8" font-size="9.2" fill="#111" stroke="#111" stroke-width="0.25" textLength="186" lengthAdjust="spacing">Versus 1981−2010 Longterm Average</text><text x="371.5" y="464.3" font-size="7.6" fill="#111" stroke="#111" stroke-width="0.15" textLength="141" lengthAdjust="spacing">NOAA/ESRL PSD and CIRES−CU</text></g>
<g clip-path="url(#cu)"><path fill="#5affa0" d="M239 149.8L478.1 149.8L478.1 319.6L239 319.6Z"/><path fill="#32ffc8" d="M239 289.6L478.1 289.6L478.1 459.4L239 459.4Z"/><path fill="#82ff78" d="M166.4 273.3L203.9 274.1L203.9 319.6L161.4 319.6L161.4 314.2L166.4 300L168.1 293.3L173.1 283.3Z"/><path fill="#82ff78" d="M106.5 310.9L143.1 312.5L143.9 319.6L104.8 319.6Z"/><path fill="#82ff78" d="M256.5 216.5L264 215.7L268.2 228.2L268.2 236.6L259 236.6L256.5 228.2Z"/><path fill="#82ff78" d="M260.7 236.6L277.3 236.6L277.3 246.6L297.3 243.3L299 253.3L294 256.6L297.3 263.3L289 276.6L265.7 276.6L265.7 256.6L264 246.6Z"/><path fill="#82ff78" d="M265.7 295L282.3 293.3L283.2 303.4L272.3 308.4L265.7 306.7Z"/><path fill="#82ff78" d="M113.1 309.6L143.1 313L143.9 289.6L259 289.6L259 459.4L136.4 459.4L138.9 372.3L119.8 371.4L99.8 359.7L99.8 357.2L126.5 358.1L129.8 346.4L123.1 339.7L118.1 339.7L116.5 333L108.1 324.7L106.5 319.7Z"/><path fill="#5affa0" d="M203.9 253.3L228 253.3L228 232.4L246.3 232.4L246.3 214.9L256.3 214L256.3 231.6L259 231.6L259 319.6L203.9 319.6Z"/><path fill="#5affa0" d="M241.3 189L259 183.1L259 214.9L244.6 213.2L241.3 209.9Z"/><path fill="#5affa0" d="M143.1 313L143.9 289.6L161.4 289.6L161.4 314.7L194.7 318L223 328L223.8 317.2L203.9 316.3L203 289.6L259 289.6L259 459.4L136.4 459.4L138.9 372.3L139.8 348L141.4 338Z"/><path fill="#5affa0" d="M239 289.6L309 289.6L310.6 309.6L302.3 319.7L289 323L280.7 339.7L264 344.7L239 346.4Z"/><path fill="#32ffc8" d="M110.6 256.6L121.5 257.4L119.8 266.6L116.5 280L119.8 283.3L106.5 300L103.2 298.3L108.1 266.6Z"/><path fill="#32ffc8" d="M128.1 288.3L136.4 283.3L147.3 285L148.1 272.5L167.2 275.8L173.1 283.3L168.1 293.3L166.4 300L161.4 314.2L143.1 312.5L123.1 310L131.5 298.3L126.5 296.7Z"/><path fill="#32ffc8" d="M234.7 254.9L249.6 254.9L250.5 266.6L234.7 266.6Z"/><path fill="#32ffc8" d="M224.7 285L244.6 285L244.6 295L224.7 295Z"/><path fill="#32ffc8" d="M252.1 184.8L259 183.1L259 199.8L253 199.8Z"/><path fill="#32ffc8" d="M252.4 189.8L269 191.5L269.8 209.9L262.3 211.5L255.7 211.5L252.4 199.8Z"/><path fill="#32ffc8" d="M297.3 256.6L317.3 258.3L318.9 266.6L310.6 270L312.3 283.3L309 293.3L310.6 306.7L297.3 319.6L285.7 319.6L289 300L294 283.3L297.3 266.6Z"/><path fill="#32ffc8" d="M412.2 208.2L430.5 199.8L435.5 204.8L438.8 216.5L447.1 228.2L453.8 229.9L443.8 236.6L438.8 239.9L427.1 243.3L425.5 224.9L413.8 223.2Z"/><path fill="#32ffc8" d="M103.2 305.5L104 289.6L113.1 289.6L110.6 304.6Z"/><path fill="#32ffc8" d="M121.5 309.6L133.1 298L128.1 289.6L143.9 289.6L143.1 312.2Z"/><path fill="#32ffc8" d="M143.1 313L143.9 289.6L161.4 289.6L161.4 306.3L158.1 314.7L161.4 316.3L156.4 329.7L179.7 331.4L186.4 323L188.1 316.3L194.7 318L219.7 321.3L220.5 333L228 339.7L236.3 346.4L259 348L259 459.4L136.4 459.4L138.9 372.3L139.8 348L141.4 338Z"/><path fill="#14fff0" d="M136.4 276.6L146.4 275L147.3 285L139.8 285.8Z"/><path fill="#14fff0" d="M269.8 191.5L294 195.7L279 209.9L269.8 209.9Z"/><path fill="#14fff0" d="M292.3 211.5L302.3 204.8L337.3 207.4L338.9 216.5L345.6 221.5L355.6 236.6L355.6 253.3L380.5 233.2L398.9 223.2L405.5 209.9L412.2 208.2L413.8 223.2L425.5 224.9L427.1 243.3L438.8 239.9L427.1 253.3L427.1 266.6L422.2 283.3L422.2 296.7L372.2 305L317.3 314.2L297.3 319.6L310.6 306.7L309 293.3L312.3 283.3L310.6 270L318.9 266.6L317.3 258.3L315.6 216.5L312.3 215.7Z"/><path fill="#14fff0" d="M156.4 331.4L176.4 331.4L179.7 339.7L186.4 349.7L193 353.1L193.9 368.1L204.7 368.1L204.7 363.1L209.7 356.4L211.4 338L219.7 333L221.3 344.7L228 353.1L236.3 348L259 349.7L259 459.4L136.4 459.4L161.4 368.1L159.8 363.1L153.1 356.4L156.4 339.7Z"/><path fill="#14fff0" d="M310.6 309.6L322.3 299.6L332.3 294.6L345.6 289.6L372.2 289.6L365.6 299.6L355.6 306.3L347.2 311.3L345.6 328L353.9 329.7L355.6 339.7L377.2 349.7L378.9 368.1L367.2 373.1L353.9 383.1L332.3 378.1L322.3 376.4L297.3 376.4L297.3 356.4L279 356.4L260.7 349.7L239 348L239 346.4L264 344.7L280.7 339.7L289 323L302.3 319.7Z"/><path fill="#00ebff" d="M353.9 256.6L365.6 249.9L382.2 243.3L395.5 246.6L405.5 249.9L405.5 266.6L388.9 265L375.5 266.6L365.6 276.6L355.6 278.3Z"/><path fill="#00ebff" d="M330.6 288.3L345.6 283.3L355.6 288.3L347.2 306.7L332.3 305Z"/><path fill="#00ebff" d="M161.4 368.1L198.9 369.8L199.7 374.8L208 373.1L218 369.8L224.7 373.1L223.8 356.4L229.7 349.7L259 353.1L259 459.4L186.4 459.4L176.4 388.1Z"/><path fill="#00ebff" d="M239 348L260.7 349.7L255.7 359.7L252.4 373.1L249 383.1L239 383.1Z"/><path fill="#00c8ff" d="M335.6 216.5L345.6 218.2L345.6 229.9L336.4 229.9Z"/><path fill="#00c8ff" d="M353.9 258.3L365.6 256.6L367.2 266.6L362.2 276.6L353.9 276.6Z"/><path fill="#00c8ff" d="M373.9 246.6L385.5 244.9L385.5 256.6L373.9 256.6Z"/><path fill="#00c8ff" d="M405.5 253.3L418.8 244.9L425.5 249.9L425.5 265L418.8 266.6L405.5 263.3Z"/><path fill="#00c8ff" d="M199.7 374.8L208 373.1L218 369.8L224.7 373.1L234.7 376.4L236.3 383.1L243 388.1L253 383.1L259 379.8L259 459.4L214.7 459.4L214.7 403.1L203.9 393.1L204.7 386.4Z"/><path fill="#00c8ff" d="M255.7 359.7L260.7 349.7L272.3 353.1L274 356.4L297.3 356.4L297.3 376.4L305.6 383.1L322.3 393.1L318.9 396.5L305.6 394.8L294 389.8L277.3 386.4L265.7 388.1L255.7 393.1L247.4 403.1L239 409.8L239 383.1L249 383.1L252.4 373.1Z"/><path fill="#00c8ff" d="M297.3 361.4L305.6 361.4L305.6 373.1L297.3 373.1Z"/><path fill="#00c8ff" d="M295.6 374.8L310.6 376.4L322.3 383.1L322.3 398.1L305.6 396.5L294 391.5Z"/><path fill="#00a0ff" d="M214.7 403.1L224.7 399.8L231.3 398.1L238 406.5L241.3 416.5L244.6 409.8L253 398.1L259 393.1L259 459.4L224.7 459.4L224.7 421.5Z"/><path fill="#00a0ff" d="M255.7 393.1L265.7 388.1L277.3 386.4L274 393.1L264 399.8L249 406.5L244 419.8L239 431.5L239 409.8L247.4 403.1Z"/><path fill="#005aff" d="M233.8 425.7L243 426.5L246.3 434L236.3 431.5Z"/><path fill="#005aff" d="M239 426.5L245.7 428.2L246.5 434L239 433.2Z"/><path fill="#ffff00" d="M19.9 149.8L223.8 149.8L223.8 189L226.3 198.2L231.3 201.5L231.3 209.9L222.2 211.5L222.2 216.5L228 218.2L228 232.4L208.9 232.4L189.7 231.6L170.6 229.1L136.4 229.9L134.8 233.2L121.5 236.6L115.6 233.2L106.5 239.1L99.8 236.6L93.2 228.2L89.8 228.2L88.2 250.8L110.6 254.1L108.1 266.6L103.2 300L89.8 310L86.5 316.7L83.2 319.6L19.9 319.6Z"/><path fill="#ffff00" d="M136.4 229.9L153.1 229.9L153.1 233.2L145.6 234.9L147.3 239.9L163.1 243.3L161.4 249.9L154.8 254.9L151.4 251.6L146.4 244.9L136.4 253.3L134.8 233.2Z"/><path fill="#ffdc00" d="M133.1 254.9L143.9 244.9L151.4 256.6L161.4 265L163.1 270L133.1 269.1Z"/><path fill="#ffdc00" d="M19.9 149.8L223.8 149.8L223.8 189L226.3 198.2L216.3 202.3L219.7 214.9L222.2 216.5L226.3 218.2L226.3 223.2L208.9 223.2L208.9 232.4L189.7 231.6L170.6 229.1L136.4 229.9L134.8 233.2L121.5 236.6L115.6 233.2L106.5 239.1L99.8 236.6L93.2 228.2L89.8 228.2L88.2 250.8L110.6 254.1L108.1 266.6L103.2 300L89.8 310L86.5 316.7L83.2 319.6L19.9 319.6Z"/><path fill="#ffdc00" d="M34.9 289.6L68.2 289.6L78.2 304.6L89.8 323L94.8 338L91.5 351.4L73.2 349.7L69.9 338L59.9 323L44.9 317.2L41.6 306.3Z"/><path fill="#ffb400" d="M19.9 149.8L84.8 149.8L84.8 176.5L86.5 188.2L94.8 191.5L93.2 199.8L86.5 201.5L86.5 208.2L98.2 208.2L96.5 223.2L93.2 228.2L89.8 228.2L80.7 226.6L79 248.3L61.5 247.4L59 265L64.9 281.7L74.9 278.3L103.2 290L103.2 300L89.8 310L86.5 316.7L83.2 319.6L68.2 319.6L66.5 293.3L58.2 281.7L43.2 281.7L36.6 293.3L36.6 319.6L19.9 319.6Z"/><path fill="#ffb400" d="M106.5 149.8L214.7 149.8L211.4 189.8L214.7 198.2L216.3 204.8L203 209.9L191.4 208.2L189.7 231.6L170.6 229.1L136.4 229.9L134.8 223.2L119.8 224.9L113.1 213.2L115.6 199.8L109.8 191.5L106.5 181.5Z"/><path fill="#ffb400" d="M41.6 319.7L46.6 317.2L59.9 324.7L74.9 333L73.2 349.7L68.2 348.9L61.5 336.4L44.9 324.7Z"/><path fill="#ffb400" d="M64.9 289.6L103.2 289.6L102.3 304.6L96.5 303.8L93.2 309.6L88.2 313L78.2 303Z"/><path fill="#ff8c00" d="M67.4 171.5L79.8 173.1L74.9 183.1L69.9 193.2L68.2 204.8L84.8 207.4L83.2 214.9L59.9 215.7L59 206.5L62.4 199.8L64 183.1Z"/><path fill="#ff8c00" d="M107.3 181.5L121.5 182.3L126.5 193.2L136.4 198.2L146.4 194.8L161.4 199.8L162.2 209L168.1 214L169.7 228.2L136.4 229.6L134.8 223.2L119.8 224.9L113.1 213.2L115.6 199.8L109.8 191.5Z"/><path fill="#ff6400" d="M51.5 224.9L56.5 223.2L60.7 233.2L57.4 243.3L49.9 234.9Z"/><path fill="#ff6400" d="M53.2 254.9L60.7 248.3L60.7 266.6L64.9 283.3L65.7 291.7L61.5 291.7L55.7 273.3L57.4 265Z"/><path fill="#ff6400" d="M61.5 289.6L64.9 289.6L64 292.1L61.5 292.1Z"/><path fill="#ffffff" d="M80.7 226.6L89.8 227.4L88.2 249.9L79 248.3Z"/><path fill="#ffff00" d="M44.9 165.6L59.9 169.8L59 177.3L46.6 172.3Z"/><path fill="#ffff00" d="M96.5 201.5L104.8 199.8L106.5 208.2L98.2 209.9Z"/><path fill="#ffff00" d="M41.6 283.3L48.2 279.1L58.2 283.3L64.9 300L64.9 310L58.2 319.6L48.2 319.6L43.2 295Z"/><path fill="#ffffff" d="M203.9 294.2L223 294.2L223 302.5L203.9 302.5Z"/><path fill="#ffffff" d="M239 214L255.7 213.2L255.7 233.2L245.7 233.2L245.7 231.6L239 231.6Z"/><path fill="#ffff00" d="M43.2 289.6L59.9 289.6L65.7 306.3L64.9 316.3L59.9 323L53.2 318L48.2 306.3Z"/><path fill="#ffff00" d="M104.8 325.5L108.1 324.7L116.5 333L118.1 339.7L104.8 338.9Z"/><path fill="#ffffff" d="M203.9 293.8L223 293.8L223 302.1L203.9 302.1Z"/><path fill="#82ff78" d="M265.7 292.9L283.2 292.9L284 304.6L269 308L265.7 303Z"/><path fill="#5affa0" d="M353.9 328.8L372.2 319.7L383.9 323L388.9 331.4L382.2 339.7L372.2 338L365.6 331.4L355.6 339.7Z"/><path fill="#5affa0" d="M368.9 373.1L385.5 367.2L393 380.6L381.4 382.3L378.9 385.6Z"/><path fill="#82ff78" d="M381.4 382.3L393.9 380.6L398.9 388.1L383.9 394.8L382.2 389.8Z"/><path fill="#ffffff" d="M382.2 395.1L398.9 388.5L415.5 419.8L398.9 429.9L385.5 409.8Z"/><use href="#ms" fill="none" stroke="#0a1014" stroke-width="0.72" stroke-opacity="0.9"/></g>
<use href="#bd" fill="none" stroke="#0a1014" stroke-width="0.8" stroke-opacity="0.9"/><use href="#us" fill="none" stroke="#0a1014" stroke-width="0.9" stroke-opacity="0.9"/>
<rect x="30.30" y="467.6" width="19.55" height="24.7" fill="#0032ff" stroke="#222" stroke-width="0.6"/><rect x="49.85" y="467.6" width="19.55" height="24.7" fill="#005aff" stroke="#222" stroke-width="0.6"/><rect x="69.41" y="467.6" width="19.55" height="24.7" fill="#0078ff" stroke="#222" stroke-width="0.6"/><rect x="88.96" y="467.6" width="19.55" height="24.7" fill="#00a0ff" stroke="#222" stroke-width="0.6"/><rect x="108.52" y="467.6" width="19.55" height="24.7" fill="#00c8ff" stroke="#222" stroke-width="0.6"/><rect x="128.07" y="467.6" width="19.55" height="24.7" fill="#00ebff" stroke="#222" stroke-width="0.6"/><rect x="147.63" y="467.6" width="19.55" height="24.7" fill="#14fff0" stroke="#222" stroke-width="0.6"/><rect x="167.18" y="467.6" width="19.55" height="24.7" fill="#32ffc8" stroke="#222" stroke-width="0.6"/><rect x="186.74" y="467.6" width="19.55" height="24.7" fill="#5affa0" stroke="#222" stroke-width="0.6"/><rect x="206.29" y="467.6" width="19.55" height="24.7" fill="#82ff78" stroke="#222" stroke-width="0.6"/><rect x="225.85" y="467.6" width="19.55" height="24.7" fill="#ffffff" stroke="#222" stroke-width="0.6"/><rect x="245.40" y="467.6" width="19.55" height="24.7" fill="#ffffff" stroke="#222" stroke-width="0.6"/><rect x="264.95" y="467.6" width="19.55" height="24.7" fill="#ffff00" stroke="#222" stroke-width="0.6"/><rect x="284.51" y="467.6" width="19.55" height="24.7" fill="#ffdc00" stroke="#222" stroke-width="0.6"/><rect x="304.06" y="467.6" width="19.55" height="24.7" fill="#ffb400" stroke="#222" stroke-width="0.6"/><rect x="323.62" y="467.6" width="19.55" height="24.7" fill="#ff8c00" stroke="#222" stroke-width="0.6"/><rect x="343.17" y="467.6" width="19.55" height="24.7" fill="#ff6400" stroke="#222" stroke-width="0.6"/><rect x="362.73" y="467.6" width="19.55" height="24.7" fill="#ff3c00" stroke="#222" stroke-width="0.6"/><rect x="382.28" y="467.6" width="19.55" height="24.7" fill="#ff1900" stroke="#222" stroke-width="0.6"/><rect x="401.84" y="467.6" width="19.55" height="24.7" fill="#e60000" stroke="#222" stroke-width="0.6"/><rect x="421.39" y="467.6" width="19.55" height="24.7" fill="#be0000" stroke="#222" stroke-width="0.6"/><rect x="440.95" y="467.6" width="19.55" height="24.7" fill="#8c0000" stroke="#222" stroke-width="0.6"/><g font-size="10" fill="#3a3a3a" text-anchor="middle"><text x="53.6" y="504.6" textLength="22.2" lengthAdjust="spacingAndGlyphs">−5.0</text><text x="92.7" y="504.6" textLength="22.2" lengthAdjust="spacingAndGlyphs">−4.0</text><text x="131.8" y="504.6" textLength="22.2" lengthAdjust="spacingAndGlyphs">−3.0</text><text x="170.9" y="504.6" textLength="22.2" lengthAdjust="spacingAndGlyphs">−2.0</text><text x="210.0" y="504.6" textLength="22.2" lengthAdjust="spacingAndGlyphs">−1.0</text><text x="250.1" y="504.6" textLength="16.0" lengthAdjust="spacingAndGlyphs">0.0</text><text x="289.5" y="504.6" textLength="16.0" lengthAdjust="spacingAndGlyphs">1.0</text><text x="328.6" y="504.6" textLength="16.0" lengthAdjust="spacingAndGlyphs">2.0</text><text x="367.7" y="504.6" textLength="16.0" lengthAdjust="spacingAndGlyphs">3.0</text><text x="406.8" y="504.6" textLength="16.0" lengthAdjust="spacingAndGlyphs">4.0</text><text x="445.9" y="504.6" textLength="16.0" lengthAdjust="spacingAndGlyphs">5.0</text></g>
</g>
<g transform="translate(-10.75,470.8) scale(1.0233,1.0215)">
<g fill="#1a1a1a" text-anchor="middle"><text x="247.4" y="118.9" font-size="12.3" textLength="421.5" lengthAdjust="spacing">NOAA/NCDC Climate Division Composite Temperature Anomalies (F)</text><text x="247.4" y="134.0" font-size="13.2" textLength="221" lengthAdjust="spacing" xml:space="preserve">Feb   1961,1967,1984,2011,2015</text><text x="247.4" y="147.8" font-size="9.2" fill="#111" stroke="#111" stroke-width="0.25" textLength="186" lengthAdjust="spacing">Versus 1981−2010 Longterm Average</text><text x="371.5" y="464.3" font-size="7.6" fill="#111" stroke="#111" stroke-width="0.15" textLength="141" lengthAdjust="spacing">NOAA/ESRL PSD and CIRES−CU</text></g>
<g clip-path="url(#cu)"><path fill="#0affff" d="M235.3 151L469.8 151L469.8 317.3L235.3 317.3Z"/><path fill="#3cffc8" d="M235.3 288L469.8 288L469.8 454.4L235.3 454.4Z"/><path fill="#64ff96" d="M146 272L164 272.8L167.3 280.2L173.8 281.8L167.3 291.7L172.2 296.6L183.6 293.3L193.4 293.3L201.6 301.5L203.2 317.3L144.4 317.3Z"/><path fill="#64ff96" d="M234.2 255.7L245.7 257.3L252.2 268.8L252.2 278.6L234.2 276.9Z"/><path fill="#64ff96" d="M224.4 303.1L244 303.1L244 317.3L224.4 317.3Z"/><path fill="#64ff96" d="M209.7 245.9L227.7 247.5L227.7 252.4L209.7 252.4Z"/><path fill="#64ff96" d="M146 288L167.3 288L168.1 297.8L159.1 306L165.6 310.9L173.8 309.3L172.2 301.1L168.9 296.2L177.1 294.6L190.1 292.9L199.9 297.8L203.2 315L144.4 313.4Z"/><path fill="#64ff96" d="M160.7 315.8L186.9 317.5L183.6 324L179.5 330.5L167.3 332.2L154.2 328.9Z"/><path fill="#3cffc8" d="M191.8 200L201.6 198.4L216.3 204.9L221.2 221.3L206.5 221.3L204.8 211.5L191.8 206.6Z"/><path fill="#3cffc8" d="M209.7 222.9L228.5 222.9L228.5 249.1L209.7 245.9Z"/><path fill="#3cffc8" d="M245.7 285.1L254.8 285.1L254.8 317.3L245.7 317.3Z"/><path fill="#3cffc8" d="M138.7 371.5L141.1 353.5L144.4 348.5L149.3 360L155.8 350.2L155.8 335.5L159.1 330.5L167.3 332.2L179.5 330.5L183.6 324L186.9 317.5L195 318.3L195 322.4L220.4 322.4L224.4 328.9L225.3 315.8L244.9 315.8L245.7 304.4L254.8 304.4L254.8 386.2L245.7 379.6L239.1 384.5L234.2 376.4L224.4 369.8L209.7 369.8L199.9 373.1L195 369L160.7 368.2L146 373.1Z"/><path fill="#0affff" d="M191 189.4L191 175.5L254.8 175.5L254.8 255.7L248.9 255.7L245.7 249.1L228.5 249.1L228.5 222.9L221.2 221.3L216.3 204.9L201.6 198.4L191.8 200Z"/><path fill="#0affff" d="M136.2 276.9L146.9 275.3L147.7 285.1L139.5 286.8Z"/><path fill="#0affff" d="M160.7 368.2L195 369L199.9 373.1L209.7 369.8L224.4 369.8L234.2 376.4L239.1 384.5L245.7 379.6L254.8 386.2L254.8 454.4L216.3 454.4L213 402.5L203.2 392.7L193.4 400.9L177.1 391.1Z"/><path fill="#0affff" d="M244.9 304.4L254.8 304.4L254.8 315.8L244.9 315.8Z"/><path fill="#0affff" d="M245.1 304.4L264.7 304.4L264.7 292.9L300.6 288L414.9 288L406.8 297.8L382.3 304.4L349.6 312.5L339.8 325.6L320.2 330.5L307.1 332.2L300.6 325.6L289.2 328.9L282.6 320.7L266.3 319.1L245.1 315.8Z"/><path fill="#0affff" d="M235.3 379.6L251.6 373.1L256.5 356.7L263 350.2L274.5 353.5L276.1 369.8L279.4 379.6L276.1 389.4L264.7 396L251.6 405.8L245.1 418.9L245.1 432L235.3 432Z"/><path fill="#0affff" d="M307.1 348.5L315.3 346.9L315.3 364.9L307.1 364.9Z"/><path fill="#0affff" d="M316.9 358.4L323.5 358.4L324.3 373.1L316.1 374.7Z"/><path fill="#0affff" d="M279.4 358.4L290.8 356.7L295.7 369.8L300.6 379.6L302.2 389.4L292.4 386.2L284.3 379.6Z"/><path fill="#0affff" d="M364.3 327.3L375.7 324L385.5 320.7L390.4 327.3L382.3 338.7L372.5 335.5Z"/><path fill="#00d2ff" d="M211.4 190.2L211.4 175.5L240.8 175.5L242.4 216.4L247.3 224.6L247.3 242.6L229.3 242.6L229.3 222.9L221.2 216.4L216.3 204.9Z"/><path fill="#00d2ff" d="M235.3 213.1L256.5 216.4L276.1 227.9L289.2 216.4L300.6 213.1L313.7 219.7L313.7 229.5L307.1 242.6L316.9 255.7L323.5 262.2L341.4 255.7L356.1 255.7L362.7 258.9L374.1 255.7L382.3 257.3L398.6 265.5L411.7 263.8L423.1 265.5L419.8 268.8L398.6 270.4L382.3 275.3L365.9 272L356.1 278.6L339.8 275.3L333.3 265.5L320.2 268.8L308.8 265.5L297.3 268.8L289.2 262.2L281 255.7L267.9 245.9L258.1 242.6L248.3 236L235.3 236Z"/><path fill="#00d2ff" d="M333.3 294.9L343.1 296.6L348 306.4L333.3 312.9L320.2 311.3L316.9 304.8Z"/><path fill="#00d2ff" d="M234.2 427.9L245.7 430.4L246.5 434.4L234.2 432Z"/><path fill="#00d2ff" d="M300.6 314.2L310.4 310.9L320.2 302.7L339.8 294.6L348 304.4L343.1 310.9L320.2 312.5L307.1 319.1Z"/><path fill="#00a5ff" d="M380.6 232.8L382.3 242.6L397 255.7L398.6 262.2L408.4 257.3L419.8 257.3L423.1 265.5L411.7 263.8L398.6 265.5L382.3 257.3L374.1 255.7L362.7 258.9L356.1 255.7L377.4 242.6Z"/><path fill="#00a5ff" d="M269.6 191.9L294.1 195.9L278.5 210.7L270.4 209.9Z"/><path fill="#00a5ff" d="M315.3 211.5L330 204.9L338.2 208.2L333.3 216.4L343.1 219.7L349.6 231.1L356.1 236L354.5 249.1L339.8 255.7L333.3 252.4L326.7 242.6L323.5 232.8L325.1 222.9L331.6 218L326.7 216.4Z"/><path fill="#00a5ff" d="M341.4 255.7L352.9 257.3L352.9 268.8L341.4 268.8Z"/><path fill="#0082ff" d="M437.8 169L450.9 168.1L463.9 190.2L452.5 204.9L446 227.9L454.1 229.5L447.6 236L431.3 242.6L424.7 249.1L419.8 257.3L408.4 257.3L398.6 262.2L397 255.7L382.3 242.6L380.6 232.8L398.6 221.3L405.1 208.2L431.3 200L436.2 183.7Z"/><path fill="#005aff" d="M387.2 234.4L403.5 227.9L405.1 236L388.8 240.1Z"/><path fill="#005aff" d="M429.6 224.6L441.1 222.9L441.1 237.7L429.6 237.7Z"/><path fill="#f5ff14" d="M20.3 151L191 151L191 189.4L190.1 231.1L172.2 230.3L183.6 232.8L177.1 242.6L172.2 252.4L164 249.1L154.2 242.6L144.4 240.1L141.1 247.5L149.3 257.3L162.4 271.2L133 268.8L133.8 257.3L109.3 256.5L105.2 290L101.9 308L100.3 317.3L20.3 317.3Z"/><path fill="#f5ff14" d="M119.9 258.9L128.1 259.8L124.8 270.4L126.4 281.8L133 299L124.8 301.5L121.5 308.8L108.5 307.2L106.8 303.1L115 294.9L119.9 283.5L118.3 272Z"/><path fill="#f5ff14" d="M43.1 319.9L47.2 317.5L61.1 323.2L74.2 331.4L74.2 350.2L68.5 349.4L61.1 335.5L44.8 324Z"/><path fill="#f5ff14" d="M111.7 288L128.1 288L132.2 299.5L124.8 304.4L119.9 309.3L110.1 308.5L106.8 303.6L115 297.8Z"/><path fill="#ffe100" d="M52.9 170.6L168.9 170.6L168.9 188.6L164 200L162.4 209.9L177.1 208.2L190.1 211.5L190.1 231.1L172.2 230.3L144.4 229.5L142 237.7L134.6 249.1L133.8 257.3L109.3 256.5L105.2 290L101.9 308L100.3 317.3L69.3 317.3L57.8 290L49.7 281.8L41.5 280.2L36.6 265.5L38.2 252.4L51.3 247.5L49.7 240.1L38.2 239.3L41.5 224.6L46.4 204.9L48 183.7Z"/><path fill="#ffe100" d="M61.1 288L103.6 288L101.9 302.7L97 304.4L92.1 312.5L88.9 320.7L95.4 335.5L90.5 351.8L74.2 350.2L74.2 332.2L61.1 322.4L67.6 304.4L63.6 292.9Z"/><path fill="#ffaf00" d="M59.5 172.2L168.9 175.5L168.9 188.6L164 200L162.4 209.9L167.3 214.8L169.7 228.7L137.9 229.5L142 236L134.6 249.1L133 255.7L109.3 253.2L86.4 249.9L61.1 247.5L48 240.1L51.3 229.5L59.5 216.4L58.7 206.6L63.6 200Z"/><path fill="#ffaf00" d="M52.9 255.7L61.1 247.5L60.3 263.8L57 267.1Z"/><path fill="#ff8700" d="M64.4 173L168.9 177.1L168.9 188.6L164 200L162.4 209.9L167.3 214.8L169.7 228.7L137.9 229.5L134.6 231.1L124.8 231.1L118.3 221.3L113.4 216.4L115 208.2L106.8 183.7L101.9 183.7L97 208.2L85.6 216.4L75.8 222.9L79.1 247.5L61.1 247.5L48 240.1L51.3 229.5L59.5 216.4L58.7 206.6L63.6 200Z"/><path fill="#ff5a00" d="M67.6 173.9L85.6 175.5L82.3 186.9L92.1 193.5L85.6 208.2L74.2 216.4L59.5 215.6L58.7 206.6L63.6 200Z"/><path fill="#ff5a00" d="M106.8 181.2L121.5 182.9L126.4 196.8L137.9 200L150.9 198.4L162.4 201.7L161.6 214.8L144.4 215.6L139.5 218L137.1 229.5L124.8 231.1L118.3 221.3L113.4 216.4L115 208.2Z"/><path fill="#ffffff" d="M34.2 284.3L42.3 280.2L49.7 281.8L57.8 290L69.3 317.3L36.6 317.3Z"/><path fill="#ffffff" d="M160.7 304.8L170.5 301.5L175.4 312.9L164 312.9Z"/><path fill="#f5ff14" d="M221.2 277.8L233.4 276.9L233.4 284.3L218.7 284.3Z"/><path fill="#3cffc8" d="M365.9 303.1L375.7 278.6L388.8 272L398.6 275.3L405.1 281.8L423.1 291.7L424.7 317.3L339.8 317.3L349.6 311.3Z"/><path fill="#3cffc8" d="M245.1 294.9L261.4 293.3L264.7 317.3L244.3 317.3Z"/><path fill="#64ff96" d="M235.3 255.7L245.1 255.7L251.6 265.5L264.7 267.1L277.7 268.8L278.5 277.8L253.2 277.8L251.6 275.3L235.3 275.3Z"/><path fill="#64ff96" d="M245.1 285.1L259.8 283.5L261.4 293.3L246.7 294.9Z"/><path fill="#64ff96" d="M235.3 303.1L244.3 303.1L244.3 317.3L235.3 317.3Z"/><path fill="#ffffff" d="M235.3 278.6L251.6 276.9L256.5 283.5L245.1 285.1L246.7 294.9L245.1 303.1L235.3 303.1Z"/><path fill="#f5ff14" d="M77.4 302.7L86.4 309.3L90.5 306L95.4 302.7L101.1 304.4L100.3 314.2L92.1 317.5L88.9 320.7L92.1 312.5L87.2 314.2Z"/><path fill="#ffaf00" d="M60.3 288L64.4 288L63.6 292.1L61.1 291.3Z"/><path fill="#ffffff" d="M157.5 306L167.3 301.1L174.6 309.3L175.4 315L164 314.2Z"/><path fill="#64ff96" d="M225.3 303.6L244 303.6L244.9 315.8L225.3 315.8Z"/><path fill="#64ff96" d="M221.2 328.9L234.2 328.1L235.9 345.3L229.3 346.9L221.2 340.4Z"/><path fill="#64ff96" d="M377.4 353.5L387.2 351.8L389.6 364.9L400.2 386.2L411.7 405.8L411.7 423.8L398.6 427.1L382.3 399.3L380.6 386.2L367.6 376.4L370.8 371.5L382.3 369.8L377.4 360Z"/><path fill="#64ff96" d="M235.3 304.4L244.3 304.4L244.3 315.8L235.3 315.8Z"/><path fill="#64ff96" d="M245.1 288L261.4 288L261.4 294.6L245.1 294.6Z"/><path fill="#00d2ff" d="M235.3 427.1L245.1 427.1L246.7 434.4L235.3 433.6Z"/><path fill="#ffffff" d="M235.3 288L244.3 288L244.3 295.4L235.3 295.4Z"/><use href="#ms" fill="none" stroke="#0a1014" stroke-width="0.72" stroke-opacity="0.9"/></g>
<use href="#bd" fill="none" stroke="#0a1014" stroke-width="0.8" stroke-opacity="0.9"/><use href="#us" fill="none" stroke="#0a1014" stroke-width="0.9" stroke-opacity="0.9"/>
<rect x="30.30" y="467.6" width="23.90" height="24.7" fill="#0032ff" stroke="#222" stroke-width="0.6"/><rect x="54.20" y="467.6" width="23.90" height="24.7" fill="#005aff" stroke="#222" stroke-width="0.6"/><rect x="78.10" y="467.6" width="23.90" height="24.7" fill="#0082ff" stroke="#222" stroke-width="0.6"/><rect x="102.00" y="467.6" width="23.90" height="24.7" fill="#00a5ff" stroke="#222" stroke-width="0.6"/><rect x="125.90" y="467.6" width="23.90" height="24.7" fill="#00d2ff" stroke="#222" stroke-width="0.6"/><rect x="149.80" y="467.6" width="23.90" height="24.7" fill="#0affff" stroke="#222" stroke-width="0.6"/><rect x="173.70" y="467.6" width="23.90" height="24.7" fill="#3cffc8" stroke="#222" stroke-width="0.6"/><rect x="197.60" y="467.6" width="23.90" height="24.7" fill="#64ff96" stroke="#222" stroke-width="0.6"/><rect x="221.50" y="467.6" width="23.90" height="24.7" fill="#ffffff" stroke="#222" stroke-width="0.6"/><rect x="245.40" y="467.6" width="23.90" height="24.7" fill="#ffffff" stroke="#222" stroke-width="0.6"/><rect x="269.30" y="467.6" width="23.90" height="24.7" fill="#f5ff14" stroke="#222" stroke-width="0.6"/><rect x="293.20" y="467.6" width="23.90" height="24.7" fill="#ffe100" stroke="#222" stroke-width="0.6"/><rect x="317.10" y="467.6" width="23.90" height="24.7" fill="#ffaf00" stroke="#222" stroke-width="0.6"/><rect x="341.00" y="467.6" width="23.90" height="24.7" fill="#ff8700" stroke="#222" stroke-width="0.6"/><rect x="364.90" y="467.6" width="23.90" height="24.7" fill="#ff5a00" stroke="#222" stroke-width="0.6"/><rect x="388.80" y="467.6" width="23.90" height="24.7" fill="#ff2d00" stroke="#222" stroke-width="0.6"/><rect x="412.70" y="467.6" width="23.90" height="24.7" fill="#ff0000" stroke="#222" stroke-width="0.6"/><rect x="436.60" y="467.6" width="23.90" height="24.7" fill="#c80000" stroke="#222" stroke-width="0.6"/><g font-size="13.2" fill="#3a3a3a" text-anchor="middle"><text x="58.7" y="505.8" textLength="29.3" lengthAdjust="spacingAndGlyphs">−4.0</text><text x="106.5" y="505.8" textLength="29.3" lengthAdjust="spacingAndGlyphs">−3.0</text><text x="154.3" y="505.8" textLength="29.3" lengthAdjust="spacingAndGlyphs">−2.0</text><text x="202.1" y="505.8" textLength="29.3" lengthAdjust="spacingAndGlyphs">−1.0</text><text x="250.9" y="505.8" textLength="21.1" lengthAdjust="spacingAndGlyphs">0.0</text><text x="299.4" y="505.8" textLength="21.1" lengthAdjust="spacingAndGlyphs">1.0</text><text x="347.2" y="505.8" textLength="21.1" lengthAdjust="spacingAndGlyphs">2.0</text><text x="395.0" y="505.8" textLength="21.1" lengthAdjust="spacingAndGlyphs">3.0</text><text x="442.8" y="505.8" textLength="21.1" lengthAdjust="spacingAndGlyphs">4.0</text></g>
</g>
<g transform="translate(465.6,471.8) scale(1.016,1.0125)">
<g fill="#1a1a1a" text-anchor="middle"><text x="247.4" y="118.9" font-size="12.3" textLength="421.5" lengthAdjust="spacing">NOAA/NCDC Climate Division Composite Temperature Anomalies (F)</text><text x="247.4" y="134.0" font-size="13.2" textLength="221" lengthAdjust="spacing" xml:space="preserve">Mar   1961,1967,1984,2011,2015</text><text x="247.4" y="147.8" font-size="9.2" fill="#111" stroke="#111" stroke-width="0.25" textLength="186" lengthAdjust="spacing">Versus 1981−2010 Longterm Average</text><text x="371.5" y="464.3" font-size="7.6" fill="#111" stroke="#111" stroke-width="0.15" textLength="141" lengthAdjust="spacing">NOAA/ESRL PSD and CIRES−CU</text></g>
<g clip-path="url(#cu)"><path fill="#64ff96" d="M224.7 176.1L255.3 176.1L255.3 299.9L246.1 299.9L246.1 290L224.7 290L224.7 285L234.6 283.4L232.9 257L228 253.7L228 230.5L221.4 217.3L231.3 214L229.7 200.8L231.3 190.1Z"/><path fill="#64ff96" d="M191.8 200.8L200 199.2L214.8 202.5L214.8 209.1L200 210.7L191.8 206.6Z"/><path fill="#64ff96" d="M235.6 301.5L243.9 303.2L265.2 304L266.1 307.3L283.3 307.3L285 299.9L298.1 298.2L308 306.5L301.4 313.1L298.1 316.4L308 319.2L314.6 309.8L321.2 299.9L329.4 298.2L340.9 294.9L342.6 285L350.8 283.4L360.6 286.7L370.5 281.7L375.5 286.7L372.2 294.9L378.7 296.6L383.7 288.3L393.5 280.1L400.1 283.4L406.7 280.1L400.1 290L396.8 298.2L408.4 299.9L406.7 304.8L426.4 298.2L471.9 298.2L471.9 151.3L235.6 151.3Z"/><path fill="#64ff96" d="M245.5 289.6L340.9 289.6L334.3 297.8L321.2 296.2L317.9 304.4L309.7 307.7L308 314.3L306.4 320.9L299.8 314.3L301.4 311L285 301.1L283.3 302.8L265.2 304.4L247.1 301.1Z"/><path fill="#64ff96" d="M406.7 297.8L424.8 297.8L424.8 306.1L405.1 307.7Z"/><path fill="#64ff96" d="M372.2 289.6L388.6 289.6L383.7 296.2L372.2 297.8Z"/><path fill="#64ff96" d="M396.8 289.6L410 289.6L406.7 297.8L398.5 299.5Z"/><path fill="#3cffc8" d="M121.9 176.1L231.3 176.1L231.3 190.1L229.7 200.8L231.3 214L221.4 214.9L216.5 202.5L191.8 207.4L188.5 212.4L177 209.1L163.9 207.4L162.2 200.8L150.7 199.2L144.1 202.5L134.2 197.5L127.7 197.5L126 190.9L121.9 182.7Z"/><path fill="#3cffc8" d="M246.1 214L255.3 214L255.3 250.3L249.4 250.3L246.1 237.1Z"/><path fill="#3cffc8" d="M270.2 176.1L271 210.7L257 214L248.8 217.3L248 230.5L252.1 243.7L262.8 250.3L265.2 266.9L253.7 270.2L257 283.4L265.2 288.3L266.1 304L283.3 307.3L289.9 296.6L301.4 293.3L309.7 296.6L321.2 286.7L340.9 281.7L350.8 283.4L360.6 280.1L372.2 273.5L393.5 270.2L406.7 276.8L416.6 283.4L471.9 283.4L471.9 176.1Z"/><path fill="#3cffc8" d="M265.2 289.6L321.2 289.6L317.9 296.2L296.5 297.8L283.3 296.2L265.2 296.2Z"/><path fill="#3cffc8" d="M408.4 291.2L421.5 291.2L423.2 298.7L407.5 298.7Z"/><path fill="#0affff" d="M289.9 176.1L289.9 212.4L278.4 214L275.1 228.9L257 230.5L258.7 243.7L262.8 250.3L265.2 266.9L276.8 270.2L278.4 276.8L289.9 283.4L298.1 280.1L309.7 283.4L312.9 293.3L321.2 285L340.9 281.7L350.8 276.8L360.6 280.1L372.2 273.5L393.5 270.2L406.7 276.8L416.6 281.7L471.9 281.7L471.9 176.1Z"/><path fill="#0affff" d="M308 289.6L321.2 289.6L321.2 294.5L309.7 294.5Z"/><path fill="#00d2ff" d="M331 205.8L339.3 209.1L334.3 217.3L327.7 217.3L314.6 214L301.4 217.3L294.8 228.9L273.5 230.5L276.8 243.7L281.7 257L293.2 266.9L306.4 266.9L321.2 270.2L327.7 276.8L336 283.4L340.9 270.2L354.1 273.5L360.6 265.2L375.5 266.9L390.3 265.2L400.1 270.2L410 266.9L471.9 266.9L471.9 176.1L331 176.1Z"/><path fill="#00a5ff" d="M332.7 217.3L344.2 219L354.1 233.8L356.5 250.3L360.6 257L372.2 248.7L380.4 242.1L471.9 242.1L471.9 265.2L410 266.9L400.1 265.2L393.5 257L383.7 253.7L375.5 257L365.6 263.6L357.4 266.9L340.9 266.9L334.3 265.2L321.2 266.9L308 265.2L308 253.7L321.2 260.3L327.7 257L334.3 247L324.5 243.7L324.5 230.5Z"/><path fill="#0082ff" d="M380.4 232.2L400.1 217.3L471.9 217.3L471.9 265.2L424.8 266.9L416.6 258.6L406.7 260.3L400.1 253.7L393.5 248.7L378.7 245.4Z"/><path fill="#0082ff" d="M334.3 257L340.9 257L340.9 268.5L334.3 268.5Z"/><path fill="#005aff" d="M400.1 217.3L403.4 207.4L433 199.2L438 171.1L471.9 171.1L471.9 243.7L428.1 243.7L426.4 253.7L416.6 257L406.7 250.3L408.4 240.4L396.8 243.7L383.7 240.4L382 232.2Z"/><path fill="#0032ff" d="M437.1 171.1L449.5 168.6L456.1 184.3L441.3 199.2L433 217.3L429.7 200.8L431.4 199.2Z"/><path fill="#0032ff" d="M401.8 217.3L406.7 207.4L429.7 200.8L433 217.3L421.5 222.3L419.9 240.4L406.7 237.1L405.1 225.6Z"/><path fill="#f5ff14" d="M75 173.6L81.6 174.4L73.4 189.3L68.4 205.8L62.7 206.6L66 192.6L71.7 179.4Z"/><path fill="#f5ff14" d="M80.8 176.1L84.9 184.3L91.5 192.6L89.8 196.7L81.6 190.9L75.8 190.1L75 184.3Z"/><path fill="#f5ff14" d="M136.7 228.9L152.3 228.9L144.1 233.8L145.8 237.1L141.6 245.4L135.1 252.8Z"/><path fill="#f5ff14" d="M163 232.2L208.3 237.1L208.3 252.8L203.3 253.7L203.3 274.3L177 273.5L175.4 258.6L162.2 253.7L165.5 243.7Z"/><path fill="#f5ff14" d="M205 271.8L218.1 271L219.8 281.7L214.8 283.4L205 282.5Z"/><path fill="#f5ff14" d="M148.2 272.6L165.5 274.3L173.7 280.1L170.4 288.3L165.5 293.3L167.1 299.9L172.9 304.8L177 316.4L145.8 313.9L144.9 299.9Z"/><path fill="#f5ff14" d="M167.1 274.3L196.8 275.1L191.8 286.7L185.2 293.3L173.7 294.9L170.4 288.3L173.7 280.1Z"/><path fill="#f5ff14" d="M88.2 304.8L98.1 301.5L101.3 308.1L111.2 309.8L111.2 319.2L88.2 319.2Z"/><path fill="#f5ff14" d="M321.2 314.7L340.9 311.4L363.9 304.8L367.2 299.9L382 296.6L383.7 303.2L377.1 309.8L400.1 314.7L413.3 316.4L413.3 319.2L321.2 319.2Z"/><path fill="#f5ff14" d="M42.1 320.9L47.1 316.8L60.2 320.9L63.5 292.9L76.7 302.8L86.5 311L89.8 306.1L96.4 304.4L101.3 307.7L144.1 312.7L144.9 289.6L167.1 289.6L165.5 297.8L172.1 294.5L183.6 289.6L190.2 289.6L177 299.5L175.4 312.7L195.1 316.8L223.1 318.5L224.7 327.5L234.6 326.7L252.7 325.1L255.3 325.9L255.3 457.5L35.5 457.5L35.5 339.1Z"/><path fill="#f5ff14" d="M235.6 326.7L252.1 326.7L266.1 322.6L280 320.1L280 332.5L277.6 344.1L288.3 342.4L296.5 347.4L299.8 340.8L304.7 334.1L321.2 331.7L321.2 314.3L340.9 311.9L363.9 306.1L367.2 301.1L382 296.2L383.7 304.4L378.7 314.3L396.8 312.7L413.3 317.6L471.9 317.6L471.9 457.5L235.6 457.5Z"/><path fill="#ffe100" d="M163 232.2L177 232.2L173.7 243.7L186.9 241.3L188.5 253.7L203.3 253.7L203.3 274.3L177 273.5L175.4 258.6L162.2 253.7L165.5 243.7Z"/><path fill="#ffe100" d="M158.9 305.6L167.1 300.7L173.7 306.5L176.2 314.7L163.9 313.9Z"/><path fill="#ffe100" d="M62.7 293.3L68.4 296.6L76.7 306.5L88.2 316.4L89.8 319.2L65.2 319.2Z"/><path fill="#ffe100" d="M111.2 309.8L144.1 313.9L193.5 317.2L193.5 319.2L111.2 319.2Z"/><path fill="#ffe100" d="M43.8 316.4L52 316.4L53.6 319.2L43.8 319.2Z"/><path fill="#ffe100" d="M354.1 309.8L372.2 306.5L382 304.8L375.5 313.1L372.2 319.2L350.8 319.2Z"/><path fill="#ffe100" d="M42.1 320.9L47.1 316.8L60.2 320.9L63.5 292.9L76.7 302.8L93.9 322.6L96.4 335.8L103 337.4L104.6 322.6L112.9 309.4L144.1 312.7L162.2 314.3L175.4 312.7L186.9 316.8L181.9 322.6L177 332.5L185.2 347.4L191.8 352.3L193.5 367.2L200 372.1L206.6 370.5L205 362.2L209.9 339.1L216.5 330.8L224.7 330.8L234.6 339.1L239.5 340.8L255.3 337.4L255.3 457.5L35.5 457.5L35.5 339.1Z"/><path fill="#ffe100" d="M157.3 306.1L167.1 301.1L175.4 312.7L162.2 314.3Z"/><path fill="#ffe100" d="M235.6 339.1L252.1 337.4L253.7 329.2L265.2 326.7L266.9 337.4L273.5 342.4L278.4 345.7L289.9 355.6L299 355.6L299 347.4L306.4 347.4L321.2 342.4L324.5 339.1L340.9 337.4L344.2 327.5L350.8 312.7L367.2 306.1L380.4 302.8L378.7 314.3L383.7 322.6L390.3 330.8L398.5 337.4L390.3 345.7L471.9 345.7L471.9 457.5L235.6 457.5Z"/><path fill="#ffaf00" d="M101.3 355.6L103 340.8L117.8 342.4L121.1 337.4L131 345.7L140.8 347.4L142.5 337.4L149 330.8L157.3 329.2L173.7 332.5L177 339.1L173.7 355.6L175.4 367.2L198.4 368.8L206.6 370.5L219.8 373.8L223.1 358.9L228 350.7L237.9 345.7L246.1 340.8L255.3 339.1L255.3 408.4L239.5 411.7L237.9 401.8L231.3 398.5L216.5 400.2L205 391.9L191.8 401.8L177 391.9L162.2 368.8L145.8 373.8L117.8 370.5Z"/><path fill="#ffaf00" d="M235.6 340.8L253.7 342.4L260.3 350.7L255.4 358.9L250.4 382L257 388.6L276.8 382L275.1 372.1L273.5 357.3L298.1 356.4L299.8 363.9L308 360.6L308 349L321.2 342.4L324.5 354L354.1 354L355.7 370.5L377.1 368.8L377.1 352.3L388.6 352.3L391.1 367.2L401.8 388.6L406.7 401.8L390.3 405.1L383.7 403.5L382 385.3L368.9 378.7L350.8 382L301.4 395.2L276.8 391.9L252.1 405.1L243.9 418.3L235.6 421.6Z"/><path fill="#ff8700" d="M276.8 382L283.3 378.7L291.6 387L298.1 377.1L308 375.4L308 365.5L316.2 363.9L316.2 375.4L325.3 372.1L325.3 362.2L354.1 355.6L355.7 370.5L367.2 372.1L384.5 367.2L391.9 379.5L382 382L380.4 385.3L368.9 378.7L357.4 382L349.1 377.1L334.3 377.1L321.2 395.2L301.4 395.2L291.6 391.9L278.4 390.3Z"/><path fill="#64ff96" d="M136.7 277.6L146.6 275.9L147.4 285.8L139.2 285.8Z"/><path fill="#ffffff" d="M232.1 204.1L242.8 204.1L242.8 214.9L232.1 214.9Z"/><path fill="#ffffff" d="M235.6 204.1L242.2 204.1L243 214L235.6 214.9Z"/><path fill="#ffffff" d="M232.9 428.2L241.2 424.9L246.9 433.2L237.9 433.2Z"/><path fill="#64ff96" d="M223.1 289.6L255.3 289.6L255.3 302.8L247.7 302.8L246.1 292.9L223.1 293.7Z"/><path fill="#ffffff" d="M235.6 426.6L243.9 426.6L247.1 434.8L235.6 434.8Z"/><use href="#ms" fill="none" stroke="#0a1014" stroke-width="0.72" stroke-opacity="0.9"/></g>
<use href="#bd" fill="none" stroke="#0a1014" stroke-width="0.8" stroke-opacity="0.9"/><use href="#us" fill="none" stroke="#0a1014" stroke-width="0.9" stroke-opacity="0.9"/>
<rect x="30.30" y="467.6" width="23.90" height="24.7" fill="#0032ff" stroke="#222" stroke-width="0.6"/><rect x="54.20" y="467.6" width="23.90" height="24.7" fill="#005aff" stroke="#222" stroke-width="0.6"/><rect x="78.10" y="467.6" width="23.90" height="24.7" fill="#0082ff" stroke="#222" stroke-width="0.6"/><rect x="102.00" y="467.6" width="23.90" height="24.7" fill="#00a5ff" stroke="#222" stroke-width="0.6"/><rect x="125.90" y="467.6" width="23.90" height="24.7" fill="#00d2ff" stroke="#222" stroke-width="0.6"/><rect x="149.80" y="467.6" width="23.90" height="24.7" fill="#0affff" stroke="#222" stroke-width="0.6"/><rect x="173.70" y="467.6" width="23.90" height="24.7" fill="#3cffc8" stroke="#222" stroke-width="0.6"/><rect x="197.60" y="467.6" width="23.90" height="24.7" fill="#64ff96" stroke="#222" stroke-width="0.6"/><rect x="221.50" y="467.6" width="23.90" height="24.7" fill="#ffffff" stroke="#222" stroke-width="0.6"/><rect x="245.40" y="467.6" width="23.90" height="24.7" fill="#ffffff" stroke="#222" stroke-width="0.6"/><rect x="269.30" y="467.6" width="23.90" height="24.7" fill="#f5ff14" stroke="#222" stroke-width="0.6"/><rect x="293.20" y="467.6" width="23.90" height="24.7" fill="#ffe100" stroke="#222" stroke-width="0.6"/><rect x="317.10" y="467.6" width="23.90" height="24.7" fill="#ffaf00" stroke="#222" stroke-width="0.6"/><rect x="341.00" y="467.6" width="23.90" height="24.7" fill="#ff8700" stroke="#222" stroke-width="0.6"/><rect x="364.90" y="467.6" width="23.90" height="24.7" fill="#ff5a00" stroke="#222" stroke-width="0.6"/><rect x="388.80" y="467.6" width="23.90" height="24.7" fill="#ff2d00" stroke="#222" stroke-width="0.6"/><rect x="412.70" y="467.6" width="23.90" height="24.7" fill="#ff0000" stroke="#222" stroke-width="0.6"/><rect x="436.60" y="467.6" width="23.90" height="24.7" fill="#c80000" stroke="#222" stroke-width="0.6"/><g font-size="13.2" fill="#3a3a3a" text-anchor="middle"><text x="58.7" y="505.8" textLength="29.3" lengthAdjust="spacingAndGlyphs">−4.0</text><text x="106.5" y="505.8" textLength="29.3" lengthAdjust="spacingAndGlyphs">−3.0</text><text x="154.3" y="505.8" textLength="29.3" lengthAdjust="spacingAndGlyphs">−2.0</text><text x="202.1" y="505.8" textLength="29.3" lengthAdjust="spacingAndGlyphs">−1.0</text><text x="250.9" y="505.8" textLength="21.1" lengthAdjust="spacingAndGlyphs">0.0</text><text x="299.4" y="505.8" textLength="21.1" lengthAdjust="spacingAndGlyphs">1.0</text><text x="347.2" y="505.8" textLength="21.1" lengthAdjust="spacingAndGlyphs">2.0</text><text x="395.0" y="505.8" textLength="21.1" lengthAdjust="spacingAndGlyphs">3.0</text><text x="442.8" y="505.8" textLength="21.1" lengthAdjust="spacingAndGlyphs">4.0</text></g>
</g>
<g transform="translate(930.0,473.6) scale(1.0035,1.003)">
<g fill="#1a1a1a" text-anchor="middle"><text x="247.4" y="118.9" font-size="12.3" textLength="421.5" lengthAdjust="spacing">NOAA/NCDC Climate Division Composite Temperature Anomalies (F)</text><text x="247.4" y="134.0" font-size="13.2" textLength="221" lengthAdjust="spacing" xml:space="preserve">Apr   1961,1967,1984,2011,2015</text><text x="247.4" y="147.8" font-size="9.2" fill="#111" stroke="#111" stroke-width="0.25" textLength="186" lengthAdjust="spacing">Versus 1981−2010 Longterm Average</text><text x="371.5" y="464.3" font-size="7.6" fill="#111" stroke="#111" stroke-width="0.15" textLength="141" lengthAdjust="spacing">NOAA/ESRL PSD and CIRES−CU</text></g>
<g clip-path="url(#cu)"><path fill="#0096ff" d="M19.9 150.9L259.1 150.9L259.1 320.4L19.9 320.4Z"/><path fill="#50ffaf" d="M239.2 293.4L245.8 292.6L264.1 294.2L277.5 299.2L297.5 295.9L295.8 289.3L302.5 282.6L309.1 284.3L310.8 295.9L320.8 294.2L322.4 282.6L335.8 284.3L337.4 292.6L342.4 297.6L347.4 302.6L355.7 294.2L354.1 285.9L365.7 282.6L367.4 292.6L374.1 297.6L384.1 295.9L385.7 304.2L380.7 314.2L405.7 309.2L405.7 300.9L399 295.9L399 285.9L405.7 277.6L412.4 279.3L422.4 280.9L427.4 267.6L478.3 267.6L478.3 150.9L239.2 150.9Z"/><path fill="#50ffaf" d="M19.9 290.5L203.1 290.5L203.1 315.5L188.1 317.2L186.5 322.2L179.8 323.9L176.5 330.5L159.8 328.9L148.2 330.5L143.2 338.9L140.7 348.8L139 460L19.9 460Z"/><path fill="#50ffaf" d="M204 290.5L223.1 290.5L223.1 302.2L204 302.2Z"/><path fill="#50ffaf" d="M239.2 290.5L249.2 290.5L247.5 293.9L239.2 293.9Z"/><path fill="#50ffaf" d="M264.1 290.5L297.5 290.5L299.1 295.5L292.5 298.9L285.8 297.2L265.8 293.9Z"/><path fill="#50ffaf" d="M309.1 290.5L319.1 290.5L317.4 293.9L309.1 293.9Z"/><path fill="#50ffaf" d="M339.1 290.5L355.7 290.5L352.4 298.9L345.8 302.2L340.8 295.5Z"/><path fill="#50ffaf" d="M365.7 290.5L399 290.5L405.7 300.5L404 308.9L380.7 315.5L378.2 310.5L385.7 300.5L372.4 297.2Z"/><path fill="#14ffeb" d="M239.2 277.6L247.5 279.3L254.2 275.9L277.5 275.9L289.1 274.3L290.8 282.6L302.5 280.9L310.8 279.3L320.8 280.9L322.4 274.3L337.4 272.6L339.1 284.3L354.1 285.9L365.7 282.6L369.1 277.6L375.7 270.9L377.4 257.6L385.7 255.9L390.7 265.9L399 269.3L414 264.3L422.4 257.6L427.4 250.9L478.3 250.9L478.3 150.9L239.2 150.9Z"/><path fill="#14ffeb" d="M19.9 290.5L166.5 290.5L163.2 300.5L158.2 307.2L164.8 313.9L144 313.9L143.2 338.9L140.7 347.2L129.9 352.2L126.5 357.2L101.5 355.5L89.9 353.8L19.9 353.8Z"/><path fill="#00d7ff" d="M247.5 237.6L272.5 230.9L294.1 232.6L314.1 229.3L314.1 257.6L325.8 257.6L327.4 244.3L345.8 239.3L355.7 240.9L354.1 250.9L345.8 257.6L342.4 267.6L352.4 270.9L352.4 277.6L339.1 277.6L337.4 272.6L322.4 274.3L319.1 267.6L297.5 267.6L289.1 274.3L277.5 275.9L254.2 275.9L249.2 259.3Z"/><path fill="#00d7ff" d="M437.4 170.9L450.7 168.4L464 190.9L454 200.9L442.4 217.6L435.7 234.3L427.4 240.9L424 224.3L422.4 204.3L432.4 199.3Z"/><path fill="#00d7ff" d="M239.2 175.9L252.5 175.9L253.3 214.3L262.5 210.9L275.8 214.3L272.5 229.3L255.8 237.6L247.5 237.6L239.2 237.6Z"/><path fill="#00d7ff" d="M34.9 290.5L166.5 290.5L163.2 300.5L158.2 307.2L164.8 313.9L144 313.9L142.3 338.9L134.8 347.2L128.2 343.9L119.9 338.9L109.9 327.2L104.9 328.9L103.2 338.9L94.9 338.9L91.5 348.8L74.9 348.8L73.2 335.5L61.6 325.5L46.6 318.9L43.2 307.2Z"/><path fill="#0096ff" d="M68.2 292.2L78.2 303.9L93.2 323.9L94.9 336.4L103.2 337.2L104.9 328L114 310.5L144 313L164.8 313.9L158.2 307.2L163.2 300.5L166.5 290.5L66.6 290.5Z"/><path fill="#0096ff" d="M46.6 290.5L64.9 290.5L66.6 307.2L61.6 318.9L54.9 320.5L48.2 312.2Z"/><path fill="#0064ff" d="M64.1 172.6L106.5 180.1L107.4 183.4L113.2 200.9L116.5 217.6L126.5 210.9L139.8 217.6L136.5 229.3L144 237.6L136.5 250.9L134.8 270.9L148.2 273.4L146.5 282.6L136.5 277.6L128.2 284.3L119.9 289.3L128.2 264.3L110.7 258.4L106.5 289.3L103.2 310.9L89.9 320.4L68.2 320.4L64.9 282.6L58.2 275.9L60.7 249.3L48.2 241.8L50.7 229.3L59.9 217.6L59.1 207.6L64.1 200.9Z"/><path fill="#0064ff" d="M121.9 182.6L121.9 175.9L191.5 175.9L191.5 190.1L189.8 205.9L163.2 210.9L161.5 215.9L139.8 217.6L126.5 210.9L128.2 195.9L126.5 189.3Z"/><path fill="#0064ff" d="M191.5 190.9L191.5 175.9L209.8 175.9L209.8 190.9L213.1 200.9L216.5 207.6L199.8 210.9L191.5 205.9Z"/><path fill="#0064ff" d="M63.2 290.5L113.2 290.5L109.9 300.5L101.5 307.2L98.2 303.9L93.2 315.5L87.4 313.9L78.2 303.9Z"/><path fill="#0032ff" d="M55.7 215.9L68.2 215.1L74.9 220.9L77.4 229.3L83.2 227.6L89.9 225.9L91.5 234.3L98.2 240.9L109.9 254.3L108.2 267.6L104.9 289.3L91.5 284.3L66.6 279.3L64.1 284.3L57.4 274.3L59.9 249.3L48.2 241.8L50.7 229.3Z"/><path fill="#0032ff" d="M86.5 192.6L93.2 192.6L98.2 205.9L91.5 210.9L85.7 204.3Z"/><path fill="#0032ff" d="M121.9 182.6L121.9 175.9L168.2 175.9L168.2 188.4L166.5 200.9L153.2 199.3L146.5 202.6L136.5 197.6L128.2 195.9L126.5 189.3Z"/><path fill="#ffff00" d="M239.2 315.9L264.1 315.9L264.1 320.4L239.2 320.4Z"/><path fill="#ffff00" d="M309.1 316.7L322.4 315.1L322.4 320.4L309.1 320.4Z"/><path fill="#ffff00" d="M339.1 313.4L352.4 310.9L350.8 317.6L342.4 320.4L337.4 320.4Z"/><path fill="#ffff00" d="M224.8 318L259.1 316.4L259.1 340.5L253.1 338.9L246.4 330.5L236.4 326.4L225.6 326.4Z"/><path fill="#ffff00" d="M239.2 318L264.1 316.4L265.8 321.4L292.5 319.7L294.1 328.9L289.1 335.5L304.1 332.2L305.8 325.5L310.8 317.2L320.8 315.5L339.1 312.2L350.8 310.5L352.4 317.2L347.4 327.2L354.1 328.9L354.1 338.9L369.1 338.9L377.4 337.2L382.4 340.5L395.7 336.4L402.4 338.9L389.1 350.5L478.3 350.5L478.3 460L239.2 460Z"/><path fill="#ffc800" d="M322.4 314.2L339.1 312.6L337.4 320.4L322.4 320.4Z"/><path fill="#ffc800" d="M174.8 332.2L179.8 333.9L186.5 350.5L193.1 352.2L194 322.2L219.8 322.2L221.5 328L236.4 326.4L246.4 330.5L253.1 338.9L259.1 340.5L259.1 460L161.5 460L161.5 368L174.8 367.2L173.2 348.8Z"/><path fill="#ffc800" d="M239.2 327.2L252.5 326.4L254.2 335.5L264.1 333.9L269.1 338.9L277.5 343.9L287.5 345.5L297.5 347.2L302.5 337.2L312.4 333.9L320.8 332.2L321.6 315.5L339.1 312.2L340.8 320.5L337.4 330.5L324.1 331.4L324.1 338.9L334.1 338.9L334.1 347.2L342.4 345.5L347.4 338.9L354.1 338.9L369.1 338.9L377.4 337.2L384.1 345.5L389.1 350.5L478.3 350.5L478.3 460L239.2 460Z"/><path fill="#ff9100" d="M161.5 368L199 370.5L203.1 372.2L208.1 368.8L204.8 363.8L209.8 355.5L211.5 338.9L218.1 332.2L221.5 340.5L234.8 333.9L236.4 343.9L259.1 347.2L259.1 460L161.5 460Z"/><path fill="#ff9100" d="M239.2 328.9L250.8 328.9L252.5 338.9L242.5 340.5L239.2 340.5Z"/><path fill="#ff9100" d="M239.2 347.2L255.8 348.8L260.8 352.2L274.1 357.2L297.5 356.3L305.8 357.2L307.4 348.8L315.8 347.2L315.8 357.2L324.1 353.8L352.4 355.5L354.1 357.2L362.4 357.2L364.1 368.8L385.7 367.2L397.4 383.8L399 388.8L384.1 393.8L382.4 383.8L369.1 373.8L355.7 382.2L325.8 373.8L319.1 380.5L320.8 393.8L302.5 393.8L277.5 390.5L255.8 403.8L247.5 420.5L247.5 433.8L239.2 433.8Z"/><path fill="#ff5500" d="M199.8 373.8L208.1 368.8L218.1 370.5L224 373.8L224.8 357.2L231.4 350.5L241.4 347.2L253.1 348.8L256.4 357.2L251.4 368.8L253.1 380.5L259.1 383.8L259.1 460L203.1 460L204 392.2L204.8 387.2Z"/><path fill="#ff5500" d="M239.2 348.8L255.8 348.8L257.5 357.2L254.2 368.8L250.8 378.8L255.8 390.5L265.8 387.2L275.8 388.8L255.8 403.8L247.5 420.5L239.2 423.8Z"/><path fill="#ff5500" d="M274.1 357.2L279.1 358.8L284.1 373.8L280.8 378.8L275.8 368.8Z"/><path fill="#ff5500" d="M307.4 363.8L315.8 363.8L315.8 373.8L307.4 373.8Z"/><path fill="#ff5500" d="M325.8 373.8L332.4 372.2L339.1 375.5L355.7 372.2L367.4 372.2L365.7 377.2L355.7 382.2L347.4 377.2L335.8 378.8L327.4 378.8Z"/><path fill="#ff1900" d="M199.8 373.8L208.1 368.8L218.1 370.5L224 373.8L234.8 377.2L238.1 383.8L243.1 388.8L251.4 382.2L256.4 390.5L253.1 398.8L246.4 405.5L243.1 420.5L244.8 428.8L234.8 425.5L224.8 420.5L214.8 403.8L204 392.2L204.8 387.2Z"/><path fill="#ff1900" d="M239.2 383.8L250.8 382.2L255.8 390.5L249.2 403.8L244.2 417.2L239.2 427.2Z"/><path fill="#00d7ff" d="M34.9 284.3L43.2 282.6L66.6 294.2L86.5 320.4L36.6 320.4Z"/><path fill="#00d7ff" d="M163.2 230.9L188.1 232.6L189.8 224.3L208.1 224.3L259.1 222.6L259.1 237.6L246.4 234.3L228.1 232.6L209 234.3L193.1 250.9L189.8 274.3L201.5 275.1L194.8 285.9L188.1 294.2L176.5 295.9L168.2 287.6L174.8 280.9L169.8 275.9L176.5 272.6L174.8 257.6L164.8 255.9L166.5 244.3Z"/><path fill="#00d7ff" d="M224.8 190.9L224.8 175.9L259.1 175.9L259.1 217.6L243.1 214.3L221.5 217.6L219.8 205.9L231.4 204.3Z"/><path fill="#14ffeb" d="M193.1 235.9L208.1 234.3L228.1 232.6L246.4 234.3L259.1 237.6L259.1 277.6L249.8 277.6L233.1 279.3L219.8 284.3L204.8 284.3L204 275.1L189.8 274.3L190.6 254.3Z"/><path fill="#50ffaf" d="M159.8 305.9L168.2 294.2L176.5 295.9L188.1 294.2L194.8 285.9L201.5 275.1L204 275.1L204.8 284.3L219.8 284.3L233.1 279.3L249.8 277.6L259.1 280.9L259.1 292.6L224.8 294.2L203.1 300.9L203.1 320.4L144.8 320.4L144.8 315.1L163.2 315.9Z"/><path fill="#ffffff" d="M203.1 300.9L224.8 294.2L259.1 292.6L259.1 320.4L203.1 320.4Z"/><path fill="#ffff00" d="M226.4 315.9L259.1 315.1L259.1 320.4L226.4 320.4Z"/><path fill="#50ffaf" d="M294.1 207.6L302.5 204.3L312.4 209.3L329.1 204.3L339.1 210.9L315.8 217.6L312.4 224.3L309.1 215.9L294.1 214.3Z"/><path fill="#50ffaf" d="M402.4 215.9L409 207.6L414 209.3L409 215.9Z"/><path fill="#ff9100" d="M233.9 427.2L243.1 427.2L246.4 433.8L236.4 432.2Z"/><path fill="#ff9100" d="M239.2 427.2L245.8 428.8L246.7 433.8L239.2 433.8Z"/><use href="#ms" fill="none" stroke="#0a1014" stroke-width="0.72" stroke-opacity="0.9"/></g>
<use href="#bd" fill="none" stroke="#0a1014" stroke-width="0.8" stroke-opacity="0.9"/><use href="#us" fill="none" stroke="#0a1014" stroke-width="0.9" stroke-opacity="0.9"/>
<rect x="30.30" y="467.6" width="30.73" height="24.7" fill="#0032ff" stroke="#222" stroke-width="0.6"/><rect x="61.03" y="467.6" width="30.73" height="24.7" fill="#0064ff" stroke="#222" stroke-width="0.6"/><rect x="91.76" y="467.6" width="30.73" height="24.7" fill="#0096ff" stroke="#222" stroke-width="0.6"/><rect x="122.49" y="467.6" width="30.73" height="24.7" fill="#00d7ff" stroke="#222" stroke-width="0.6"/><rect x="153.21" y="467.6" width="30.73" height="24.7" fill="#14ffeb" stroke="#222" stroke-width="0.6"/><rect x="183.94" y="467.6" width="30.73" height="24.7" fill="#50ffaf" stroke="#222" stroke-width="0.6"/><rect x="214.67" y="467.6" width="30.73" height="24.7" fill="#ffffff" stroke="#222" stroke-width="0.6"/><rect x="245.40" y="467.6" width="30.73" height="24.7" fill="#ffffff" stroke="#222" stroke-width="0.6"/><rect x="276.13" y="467.6" width="30.73" height="24.7" fill="#ffff00" stroke="#222" stroke-width="0.6"/><rect x="306.86" y="467.6" width="30.73" height="24.7" fill="#ffc800" stroke="#222" stroke-width="0.6"/><rect x="337.59" y="467.6" width="30.73" height="24.7" fill="#ff9100" stroke="#222" stroke-width="0.6"/><rect x="368.31" y="467.6" width="30.73" height="24.7" fill="#ff5500" stroke="#222" stroke-width="0.6"/><rect x="399.04" y="467.6" width="30.73" height="24.7" fill="#ff1900" stroke="#222" stroke-width="0.6"/><rect x="429.77" y="467.6" width="30.73" height="24.7" fill="#d70000" stroke="#222" stroke-width="0.6"/><g font-size="17" fill="#3a3a3a" text-anchor="middle"><text x="66.2" y="510.5" textLength="37.7" lengthAdjust="spacingAndGlyphs">−3.0</text><text x="127.7" y="510.5" textLength="37.7" lengthAdjust="spacingAndGlyphs">−2.0</text><text x="189.1" y="510.5" textLength="37.7" lengthAdjust="spacingAndGlyphs">−1.0</text><text x="253.8" y="510.5" textLength="27.2" lengthAdjust="spacingAndGlyphs">0.0</text><text x="315.9" y="510.5" textLength="27.2" lengthAdjust="spacingAndGlyphs">1.0</text><text x="377.3" y="510.5" textLength="27.2" lengthAdjust="spacingAndGlyphs">2.0</text><text x="438.8" y="510.5" textLength="27.2" lengthAdjust="spacingAndGlyphs">3.0</text></g>
</g>
<text x="12.8" y="448.1" font-size="32.7" fill="#000" stroke="#fff" stroke-width="0.7" textLength="154.7" lengthAdjust="spacingAndGlyphs">November</text>
<text x="513.4" y="448.1" font-size="32.7" fill="#000" stroke="#fff" stroke-width="0.7" textLength="152.5" lengthAdjust="spacingAndGlyphs">December</text>
<text x="970.5" y="448.1" font-size="32.7" fill="#000" stroke="#fff" stroke-width="0.7" textLength="112.9" lengthAdjust="spacingAndGlyphs">January</text>
<text x="28.4" y="927.4" font-size="32.7" fill="#000" stroke="#fff" stroke-width="0.7" textLength="131.3" lengthAdjust="spacingAndGlyphs">February</text>
<text x="521" y="927.4" font-size="32.7" fill="#000" stroke="#fff" stroke-width="0.7" textLength="97" lengthAdjust="spacingAndGlyphs">March</text>
<text x="979.5" y="928.1" font-size="32.7" fill="#000" stroke="#fff" stroke-width="0.7" textLength="69.5" lengthAdjust="spacingAndGlyphs">April</text>
</svg></body></html>
